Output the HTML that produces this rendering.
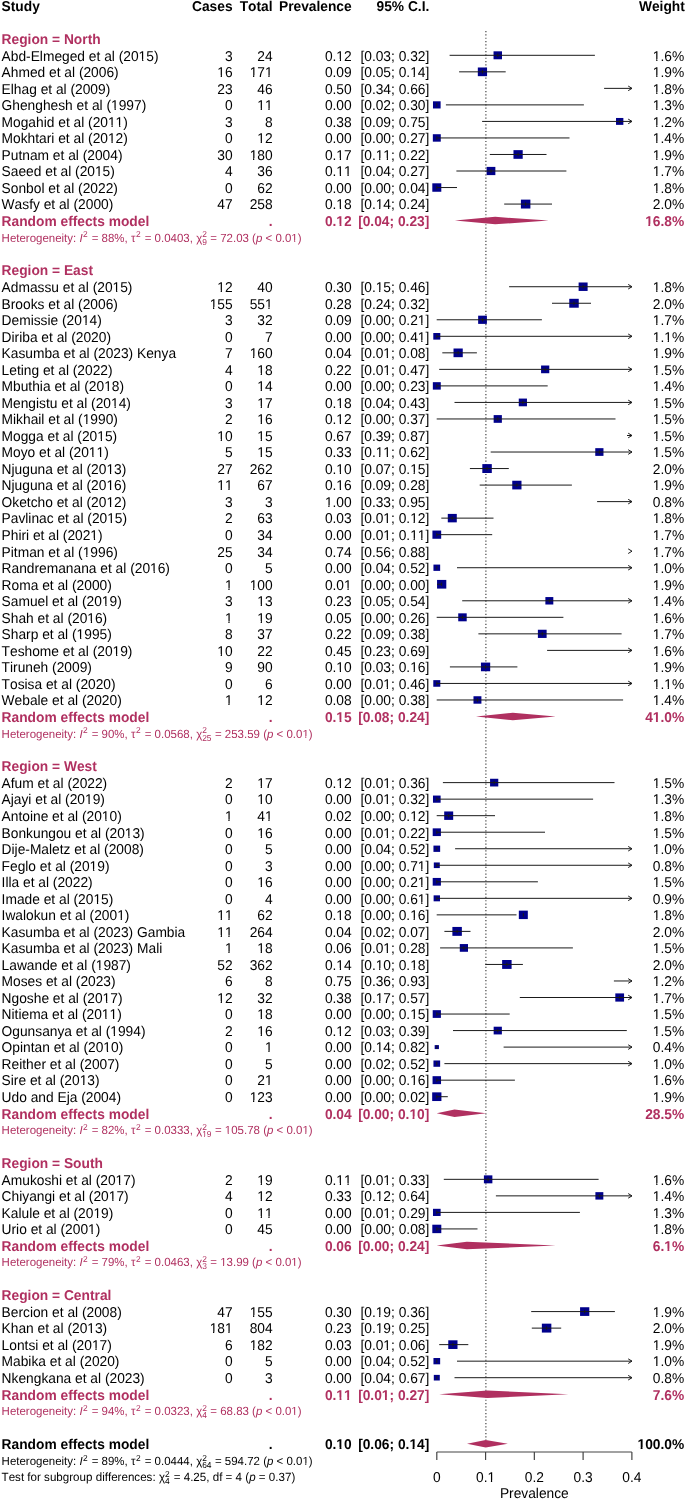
<!DOCTYPE html>
<html><head><meta charset="utf-8"><title>Forest plot</title>
<style>html,body{margin:0;padding:0;background:#fff;} svg{display:block;will-change:transform;} text{font-family:"Liberation Sans", sans-serif;white-space:pre;text-rendering:geometricPrecision;font-kerning:none;font-feature-settings:"kern" 0;}</style>
</head><body>
<svg width="685" height="1500" viewBox="0 0 685 1500" font-family="Liberation Sans, sans-serif">
<rect width="685" height="1500" fill="#fff"/>
<line x1="485.9" y1="31" x2="485.9" y2="1440.12" stroke="#333" stroke-width="1.1" stroke-dasharray="1.2 2.13"/>
<g fill="#00008b"><rect x="493.53" y="51.32" width="8.47" height="7.97"/><rect x="477.82" y="67.49" width="9.24" height="8.68"/><rect x="432.98" y="101.30" width="7.64" height="7.18"/><rect x="616.02" y="117.97" width="7.34" height="6.90"/><rect x="432.84" y="134.22" width="7.93" height="7.45"/><rect x="513.47" y="150.14" width="9.24" height="8.68"/><rect x="486.62" y="166.90" width="8.74" height="8.21"/><rect x="432.31" y="183.31" width="8.99" height="8.45"/><rect x="520.91" y="199.62" width="9.48" height="8.91"/><rect x="578.62" y="282.49" width="8.99" height="8.45"/><rect x="569.26" y="298.80" width="9.48" height="8.91"/><rect x="478.15" y="315.67" width="8.74" height="8.21"/><rect x="433.29" y="333.01" width="7.03" height="6.61"/><rect x="453.52" y="348.50" width="9.24" height="8.68"/><rect x="541.07" y="365.51" width="8.21" height="7.72"/><rect x="432.84" y="382.17" width="7.93" height="7.45"/><rect x="518.76" y="398.57" width="8.21" height="7.72"/><rect x="493.66" y="415.10" width="8.21" height="7.72"/><rect x="595.26" y="448.16" width="8.21" height="7.72"/><rect x="482.32" y="464.10" width="9.48" height="8.91"/><rect x="512.25" y="480.74" width="9.24" height="8.68"/><rect x="447.79" y="513.91" width="8.99" height="8.45"/><rect x="432.43" y="530.56" width="8.74" height="8.21"/><rect x="433.45" y="564.58" width="6.70" height="6.30"/><rect x="437.06" y="579.92" width="9.24" height="8.68"/><rect x="545.38" y="597.06" width="7.93" height="7.45"/><rect x="458.23" y="613.34" width="8.47" height="7.97"/><rect x="537.88" y="629.74" width="8.74" height="8.21"/><rect x="480.95" y="662.57" width="9.24" height="8.68"/><rect x="433.29" y="680.14" width="7.03" height="6.61"/><rect x="473.48" y="696.24" width="7.93" height="7.45"/><rect x="490.07" y="778.76" width="8.21" height="7.72"/><rect x="432.98" y="795.56" width="7.64" height="7.18"/><rect x="444.20" y="811.45" width="8.99" height="8.45"/><rect x="432.70" y="828.35" width="8.21" height="7.72"/><rect x="433.45" y="845.59" width="6.70" height="6.30"/><rect x="433.80" y="862.45" width="5.99" height="5.63"/><rect x="432.70" y="877.94" width="8.21" height="7.72"/><rect x="433.62" y="895.34" width="6.36" height="5.98"/><rect x="518.83" y="910.63" width="8.99" height="8.45"/><rect x="452.38" y="926.94" width="9.48" height="8.91"/><rect x="459.79" y="944.06" width="8.21" height="7.72"/><rect x="502.12" y="960.00" width="9.48" height="8.91"/><rect x="615.32" y="993.40" width="8.74" height="8.21"/><rect x="432.70" y="1010.18" width="8.21" height="7.72"/><rect x="493.66" y="1026.71" width="8.21" height="7.72"/><rect x="434.68" y="1045.11" width="4.24" height="3.98"/><rect x="433.45" y="1060.48" width="6.70" height="6.30"/><rect x="432.56" y="1076.18" width="8.47" height="7.97"/><rect x="432.18" y="1092.35" width="9.24" height="8.68"/><rect x="483.90" y="1175.36" width="8.47" height="7.97"/><rect x="595.40" y="1192.14" width="7.93" height="7.45"/><rect x="432.98" y="1208.81" width="7.64" height="7.18"/><rect x="432.31" y="1224.70" width="8.99" height="8.45"/><rect x="580.07" y="1307.24" width="9.24" height="8.68"/><rect x="541.86" y="1323.66" width="9.48" height="8.91"/><rect x="448.26" y="1340.30" width="9.24" height="8.68"/><rect x="433.45" y="1358.02" width="6.70" height="6.30"/><rect x="433.80" y="1374.88" width="5.99" height="5.63"/></g>
<g fill="#b03060"><polygon points="454.90,220.60 495.20,216.85 548.60,220.60 495.20,224.35"/><polygon points="476.00,716.50 512.80,712.75 555.70,716.50 512.80,720.25"/><polygon points="436.70,1113.22 454.50,1109.47 486.10,1113.22 454.50,1116.97"/><polygon points="436.70,1245.46 466.80,1241.71 555.70,1245.46 466.80,1249.21"/><polygon points="439.20,1394.23 487.40,1390.48 568.40,1394.23 487.40,1397.98"/></g>
<g fill="#b03060"><polygon points="467.00,1443.82 485.70,1440.07 507.80,1443.82 485.70,1447.57"/></g>
<g stroke="#1a1a1a" stroke-width="1.0" fill="none"><line x1="449.60" y1="55.30" x2="594.90" y2="55.30"/><line x1="497.76" y1="53.50" x2="497.76" y2="57.10"/><line x1="459.10" y1="71.83" x2="505.70" y2="71.83"/><line x1="482.43" y1="70.03" x2="482.43" y2="73.63"/><line x1="604.10" y1="88.36" x2="632.00" y2="88.36"/><polyline fill="none" points="628.20,86.06 632.00,88.36 628.20,90.66"/><line x1="445.90" y1="104.89" x2="583.90" y2="104.89"/><line x1="436.80" y1="103.09" x2="436.80" y2="106.69"/><line x1="482.10" y1="121.42" x2="632.00" y2="121.42"/><polyline fill="none" points="628.20,119.12 632.00,121.42 628.20,123.72"/><line x1="619.69" y1="119.62" x2="619.69" y2="123.22"/><line x1="437.00" y1="137.95" x2="569.50" y2="137.95"/><line x1="436.80" y1="136.15" x2="436.80" y2="139.75"/><line x1="489.80" y1="154.48" x2="546.50" y2="154.48"/><line x1="518.08" y1="152.68" x2="518.08" y2="156.28"/><line x1="456.40" y1="171.01" x2="566.40" y2="171.01"/><line x1="490.99" y1="169.21" x2="490.99" y2="172.81"/><line x1="437.00" y1="187.54" x2="457.00" y2="187.54"/><line x1="436.80" y1="185.74" x2="436.80" y2="189.34"/><line x1="504.20" y1="204.07" x2="552.00" y2="204.07"/><line x1="525.64" y1="202.27" x2="525.64" y2="205.87"/><line x1="509.10" y1="286.72" x2="632.00" y2="286.72"/><polyline fill="none" points="628.20,284.42 632.00,286.72 628.20,289.02"/><line x1="583.11" y1="284.92" x2="583.11" y2="288.52"/><line x1="552.00" y1="303.25" x2="591.00" y2="303.25"/><line x1="573.99" y1="301.45" x2="573.99" y2="305.05"/><line x1="436.70" y1="319.78" x2="541.90" y2="319.78"/><line x1="482.52" y1="317.98" x2="482.52" y2="321.58"/><line x1="437.00" y1="336.31" x2="632.00" y2="336.31"/><polyline fill="none" points="628.20,334.01 632.00,336.31 628.20,338.61"/><line x1="436.80" y1="334.51" x2="436.80" y2="338.11"/><line x1="442.30" y1="352.84" x2="476.90" y2="352.84"/><line x1="458.14" y1="351.04" x2="458.14" y2="354.64"/><line x1="439.20" y1="369.37" x2="632.00" y2="369.37"/><polyline fill="none" points="628.20,367.07 632.00,369.37 628.20,371.67"/><line x1="545.18" y1="367.57" x2="545.18" y2="371.17"/><line x1="437.00" y1="385.90" x2="547.70" y2="385.90"/><line x1="436.80" y1="384.10" x2="436.80" y2="387.70"/><line x1="454.50" y1="402.43" x2="632.00" y2="402.43"/><polyline fill="none" points="628.20,400.13 632.00,402.43 628.20,404.73"/><line x1="522.86" y1="400.63" x2="522.86" y2="404.23"/><line x1="436.70" y1="418.96" x2="615.50" y2="418.96"/><line x1="497.76" y1="417.16" x2="497.76" y2="420.76"/><line x1="627.00" y1="435.49" x2="632.00" y2="435.49"/><polyline fill="none" points="628.20,433.19 632.00,435.49 628.20,437.79"/><line x1="490.70" y1="452.02" x2="632.00" y2="452.02"/><polyline fill="none" points="628.20,449.72 632.00,452.02 628.20,454.32"/><line x1="599.37" y1="450.22" x2="599.37" y2="453.82"/><line x1="469.90" y1="468.55" x2="508.80" y2="468.55"/><line x1="487.06" y1="466.75" x2="487.06" y2="470.35"/><line x1="479.70" y1="485.08" x2="571.90" y2="485.08"/><line x1="516.87" y1="483.28" x2="516.87" y2="486.88"/><line x1="597.10" y1="501.61" x2="632.00" y2="501.61"/><polyline fill="none" points="628.20,499.31 632.00,501.61 628.20,503.91"/><line x1="441.30" y1="518.14" x2="493.50" y2="518.14"/><line x1="452.28" y1="516.34" x2="452.28" y2="519.94"/><line x1="437.00" y1="534.67" x2="492.20" y2="534.67"/><line x1="436.80" y1="532.87" x2="436.80" y2="536.47"/><polyline fill="none" points="628.20,548.90 632.00,551.20 628.20,553.50"/><line x1="457.00" y1="567.73" x2="632.00" y2="567.73"/><polyline fill="none" points="628.20,565.43 632.00,567.73 628.20,570.03"/><line x1="436.80" y1="565.93" x2="436.80" y2="569.53"/><line x1="437.00" y1="584.26" x2="441.30" y2="584.26"/><line x1="441.68" y1="582.46" x2="441.68" y2="586.06"/><line x1="462.20" y1="600.79" x2="632.00" y2="600.79"/><polyline fill="none" points="628.20,598.49 632.00,600.79 628.20,603.09"/><line x1="549.35" y1="598.99" x2="549.35" y2="602.59"/><line x1="436.70" y1="617.32" x2="563.40" y2="617.32"/><line x1="462.47" y1="615.52" x2="462.47" y2="619.12"/><line x1="478.40" y1="633.85" x2="621.60" y2="633.85"/><line x1="542.25" y1="632.05" x2="542.25" y2="635.65"/><line x1="547.10" y1="650.38" x2="632.00" y2="650.38"/><polyline fill="none" points="628.20,648.08 632.00,650.38 628.20,652.68"/><line x1="449.90" y1="666.91" x2="517.40" y2="666.91"/><line x1="485.57" y1="665.11" x2="485.57" y2="668.71"/><line x1="437.00" y1="683.44" x2="632.00" y2="683.44"/><polyline fill="none" points="628.20,681.14 632.00,683.44 628.20,685.74"/><line x1="436.80" y1="681.64" x2="436.80" y2="685.24"/><line x1="436.70" y1="699.97" x2="623.10" y2="699.97"/><line x1="477.44" y1="698.17" x2="477.44" y2="701.77"/><line x1="442.90" y1="782.62" x2="614.50" y2="782.62"/><line x1="494.18" y1="780.82" x2="494.18" y2="784.42"/><line x1="437.00" y1="799.15" x2="593.10" y2="799.15"/><line x1="436.80" y1="797.35" x2="436.80" y2="800.95"/><line x1="436.70" y1="815.68" x2="495.00" y2="815.68"/><line x1="448.70" y1="813.88" x2="448.70" y2="817.48"/><line x1="437.00" y1="832.21" x2="545.00" y2="832.21"/><line x1="436.80" y1="830.41" x2="436.80" y2="834.01"/><line x1="455.10" y1="848.74" x2="632.00" y2="848.74"/><polyline fill="none" points="628.20,846.44 632.00,848.74 628.20,851.04"/><line x1="436.80" y1="846.94" x2="436.80" y2="850.54"/><line x1="437.00" y1="865.27" x2="632.00" y2="865.27"/><polyline fill="none" points="628.20,862.97 632.00,865.27 628.20,867.57"/><line x1="436.80" y1="863.47" x2="436.80" y2="867.07"/><line x1="437.00" y1="881.80" x2="537.90" y2="881.80"/><line x1="436.80" y1="880.00" x2="436.80" y2="883.60"/><line x1="437.00" y1="898.33" x2="632.00" y2="898.33"/><polyline fill="none" points="628.20,896.03 632.00,898.33 628.20,900.63"/><line x1="436.80" y1="896.53" x2="436.80" y2="900.13"/><line x1="436.70" y1="914.86" x2="516.50" y2="914.86"/><line x1="523.33" y1="913.06" x2="523.33" y2="916.66"/><line x1="444.40" y1="931.39" x2="470.50" y2="931.39"/><line x1="457.12" y1="929.59" x2="457.12" y2="933.19"/><line x1="440.10" y1="947.92" x2="572.90" y2="947.92"/><line x1="463.89" y1="946.12" x2="463.89" y2="949.72"/><line x1="485.20" y1="964.45" x2="522.90" y2="964.45"/><line x1="506.86" y1="962.65" x2="506.86" y2="966.25"/><line x1="613.90" y1="980.98" x2="632.00" y2="980.98"/><polyline fill="none" points="628.20,978.68 632.00,980.98 628.20,983.28"/><line x1="519.80" y1="997.51" x2="632.00" y2="997.51"/><polyline fill="none" points="628.20,995.21 632.00,997.51 628.20,999.81"/><line x1="619.69" y1="995.71" x2="619.69" y2="999.31"/><line x1="437.00" y1="1014.04" x2="509.70" y2="1014.04"/><line x1="436.80" y1="1012.24" x2="436.80" y2="1015.84"/><line x1="453.00" y1="1030.57" x2="626.80" y2="1030.57"/><line x1="497.76" y1="1028.77" x2="497.76" y2="1032.37"/><line x1="503.60" y1="1047.10" x2="632.00" y2="1047.10"/><polyline fill="none" points="628.20,1044.80 632.00,1047.10 628.20,1049.40"/><line x1="436.80" y1="1045.30" x2="436.80" y2="1048.90"/><line x1="444.40" y1="1063.63" x2="632.00" y2="1063.63"/><polyline fill="none" points="628.20,1061.33 632.00,1063.63 628.20,1065.93"/><line x1="436.80" y1="1061.83" x2="436.80" y2="1065.43"/><line x1="437.00" y1="1080.16" x2="514.90" y2="1080.16"/><line x1="436.80" y1="1078.36" x2="436.80" y2="1081.96"/><line x1="437.00" y1="1096.69" x2="447.80" y2="1096.69"/><line x1="436.80" y1="1094.89" x2="436.80" y2="1098.49"/><line x1="443.80" y1="1179.34" x2="598.60" y2="1179.34"/><line x1="488.14" y1="1177.54" x2="488.14" y2="1181.14"/><line x1="495.90" y1="1195.87" x2="632.00" y2="1195.87"/><polyline fill="none" points="628.20,1193.57 632.00,1195.87 628.20,1198.17"/><line x1="599.37" y1="1194.07" x2="599.37" y2="1197.67"/><line x1="437.00" y1="1212.40" x2="579.90" y2="1212.40"/><line x1="436.80" y1="1210.60" x2="436.80" y2="1214.20"/><line x1="437.00" y1="1228.93" x2="477.50" y2="1228.93"/><line x1="436.80" y1="1227.13" x2="436.80" y2="1230.73"/><line x1="531.20" y1="1311.58" x2="614.90" y2="1311.58"/><line x1="584.68" y1="1309.78" x2="584.68" y2="1313.38"/><line x1="531.80" y1="1328.11" x2="561.20" y2="1328.11"/><line x1="546.59" y1="1326.31" x2="546.59" y2="1329.91"/><line x1="439.20" y1="1344.64" x2="468.30" y2="1344.64"/><line x1="452.88" y1="1342.84" x2="452.88" y2="1346.44"/><line x1="457.00" y1="1361.17" x2="632.00" y2="1361.17"/><polyline fill="none" points="628.20,1358.87 632.00,1361.17 628.20,1363.47"/><line x1="436.80" y1="1359.37" x2="436.80" y2="1362.97"/><line x1="454.50" y1="1377.70" x2="632.00" y2="1377.70"/><polyline fill="none" points="628.20,1375.40 632.00,1377.70 628.20,1380.00"/><line x1="436.80" y1="1375.90" x2="436.80" y2="1379.50"/></g>
<g stroke="#444" stroke-width="1.2" fill="none"><line x1="436.80" y1="1452.0" x2="631.88" y2="1452.0"/><line x1="436.80" y1="1452.0" x2="436.80" y2="1460.00"/><line x1="485.57" y1="1452.0" x2="485.57" y2="1460.00"/><line x1="534.34" y1="1452.0" x2="534.34" y2="1460.00"/><line x1="583.11" y1="1452.0" x2="583.11" y2="1460.00"/><line x1="631.88" y1="1452.0" x2="631.88" y2="1460.00"/></g>
<text x="1.60" y="11.01" font-size="13.78" font-weight="bold" fill="#000" transform="matrix(1 0 0 1.03 0 -0.330)">Study</text><text x="232.60" y="11.01" font-size="13.78" font-weight="bold" text-anchor="end" fill="#000" transform="matrix(1 0 0 1.03 0 -0.330)">Cases</text><text x="272.60" y="11.01" font-size="13.78" font-weight="bold" text-anchor="end" fill="#000" transform="matrix(1 0 0 1.03 0 -0.330)">Total</text><text x="351.70" y="11.01" font-size="13.78" font-weight="bold" text-anchor="end" fill="#000" transform="matrix(1 0 0 1.03 0 -0.330)">Prevalence</text><text x="429.30" y="11.01" font-size="13.78" font-weight="bold" text-anchor="end" fill="#000" transform="matrix(1 0 0 1.03 0 -0.330)">95% C.I.</text><text x="684.80" y="11.01" font-size="13.78" font-weight="bold" text-anchor="end" fill="#000" transform="matrix(1 0 0 1.03 0 -0.330)">Weight</text><text x="1.60" y="44.07" font-size="13.78" font-weight="bold" fill="#b03060" transform="matrix(1 0 0 1.03 0 -1.322)">Region = North</text><text x="1.60" y="60.60" font-size="13.78" fill="#000" transform="matrix(1 0 0 1.03 0 -1.818)">Abd-Elmeged et al (2015)</text><text x="232.60" y="60.60" font-size="13.78" text-anchor="end" fill="#000" transform="matrix(1 0 0 1.03 0 -1.818)">3</text><text x="272.60" y="60.60" font-size="13.78" text-anchor="end" fill="#000" transform="matrix(1 0 0 1.03 0 -1.818)">24</text><text x="351.70" y="60.60" font-size="13.78" text-anchor="end" fill="#000" transform="matrix(1 0 0 1.03 0 -1.818)">0.12</text><text x="429.30" y="60.60" font-size="13.78" text-anchor="end" fill="#000" transform="matrix(1 0 0 1.03 0 -1.818)">[0.03; 0.32]</text><text x="684.20" y="60.60" font-size="13.78" text-anchor="end" fill="#000" transform="matrix(1 0 0 1.03 0 -1.818)">1.6%</text><text x="1.60" y="77.13" font-size="13.78" fill="#000" transform="matrix(1 0 0 1.03 0 -2.314)">Ahmed et al (2006)</text><text x="232.60" y="77.13" font-size="13.78" text-anchor="end" fill="#000" transform="matrix(1 0 0 1.03 0 -2.314)">16</text><text x="272.60" y="77.13" font-size="13.78" text-anchor="end" fill="#000" transform="matrix(1 0 0 1.03 0 -2.314)">171</text><text x="351.70" y="77.13" font-size="13.78" text-anchor="end" fill="#000" transform="matrix(1 0 0 1.03 0 -2.314)">0.09</text><text x="429.30" y="77.13" font-size="13.78" text-anchor="end" fill="#000" transform="matrix(1 0 0 1.03 0 -2.314)">[0.05; 0.14]</text><text x="684.20" y="77.13" font-size="13.78" text-anchor="end" fill="#000" transform="matrix(1 0 0 1.03 0 -2.314)">1.9%</text><text x="1.60" y="93.66" font-size="13.78" fill="#000" transform="matrix(1 0 0 1.03 0 -2.810)">Elhag et al (2009)</text><text x="232.60" y="93.66" font-size="13.78" text-anchor="end" fill="#000" transform="matrix(1 0 0 1.03 0 -2.810)">23</text><text x="272.60" y="93.66" font-size="13.78" text-anchor="end" fill="#000" transform="matrix(1 0 0 1.03 0 -2.810)">46</text><text x="351.70" y="93.66" font-size="13.78" text-anchor="end" fill="#000" transform="matrix(1 0 0 1.03 0 -2.810)">0.50</text><text x="429.30" y="93.66" font-size="13.78" text-anchor="end" fill="#000" transform="matrix(1 0 0 1.03 0 -2.810)">[0.34; 0.66]</text><text x="684.20" y="93.66" font-size="13.78" text-anchor="end" fill="#000" transform="matrix(1 0 0 1.03 0 -2.810)">1.8%</text><text x="1.60" y="110.19" font-size="13.78" fill="#000" transform="matrix(1 0 0 1.03 0 -3.306)">Ghenghesh et al (1997)</text><text x="232.60" y="110.19" font-size="13.78" text-anchor="end" fill="#000" transform="matrix(1 0 0 1.03 0 -3.306)">0</text><text x="272.60" y="110.19" font-size="13.78" text-anchor="end" fill="#000" transform="matrix(1 0 0 1.03 0 -3.306)">11</text><text x="351.70" y="110.19" font-size="13.78" text-anchor="end" fill="#000" transform="matrix(1 0 0 1.03 0 -3.306)">0.00</text><text x="429.30" y="110.19" font-size="13.78" text-anchor="end" fill="#000" transform="matrix(1 0 0 1.03 0 -3.306)">[0.02; 0.30]</text><text x="684.20" y="110.19" font-size="13.78" text-anchor="end" fill="#000" transform="matrix(1 0 0 1.03 0 -3.306)">1.3%</text><text x="1.60" y="126.72" font-size="13.78" fill="#000" transform="matrix(1 0 0 1.03 0 -3.802)">Mogahid et al (2011)</text><text x="232.60" y="126.72" font-size="13.78" text-anchor="end" fill="#000" transform="matrix(1 0 0 1.03 0 -3.802)">3</text><text x="272.60" y="126.72" font-size="13.78" text-anchor="end" fill="#000" transform="matrix(1 0 0 1.03 0 -3.802)">8</text><text x="351.70" y="126.72" font-size="13.78" text-anchor="end" fill="#000" transform="matrix(1 0 0 1.03 0 -3.802)">0.38</text><text x="429.30" y="126.72" font-size="13.78" text-anchor="end" fill="#000" transform="matrix(1 0 0 1.03 0 -3.802)">[0.09; 0.75]</text><text x="684.20" y="126.72" font-size="13.78" text-anchor="end" fill="#000" transform="matrix(1 0 0 1.03 0 -3.802)">1.2%</text><text x="1.60" y="143.25" font-size="13.78" fill="#000" transform="matrix(1 0 0 1.03 0 -4.298)">Mokhtari et al (2012)</text><text x="232.60" y="143.25" font-size="13.78" text-anchor="end" fill="#000" transform="matrix(1 0 0 1.03 0 -4.298)">0</text><text x="272.60" y="143.25" font-size="13.78" text-anchor="end" fill="#000" transform="matrix(1 0 0 1.03 0 -4.298)">12</text><text x="351.70" y="143.25" font-size="13.78" text-anchor="end" fill="#000" transform="matrix(1 0 0 1.03 0 -4.298)">0.00</text><text x="429.30" y="143.25" font-size="13.78" text-anchor="end" fill="#000" transform="matrix(1 0 0 1.03 0 -4.298)">[0.00; 0.27]</text><text x="684.20" y="143.25" font-size="13.78" text-anchor="end" fill="#000" transform="matrix(1 0 0 1.03 0 -4.298)">1.4%</text><text x="1.60" y="159.78" font-size="13.78" fill="#000" transform="matrix(1 0 0 1.03 0 -4.793)">Putnam et al (2004)</text><text x="232.60" y="159.78" font-size="13.78" text-anchor="end" fill="#000" transform="matrix(1 0 0 1.03 0 -4.793)">30</text><text x="272.60" y="159.78" font-size="13.78" text-anchor="end" fill="#000" transform="matrix(1 0 0 1.03 0 -4.793)">180</text><text x="351.70" y="159.78" font-size="13.78" text-anchor="end" fill="#000" transform="matrix(1 0 0 1.03 0 -4.793)">0.17</text><text x="429.30" y="159.78" font-size="13.78" text-anchor="end" fill="#000" transform="matrix(1 0 0 1.03 0 -4.793)">[0.11; 0.22]</text><text x="684.20" y="159.78" font-size="13.78" text-anchor="end" fill="#000" transform="matrix(1 0 0 1.03 0 -4.793)">1.9%</text><text x="1.60" y="176.31" font-size="13.78" fill="#000" transform="matrix(1 0 0 1.03 0 -5.289)">Saeed et al (2015)</text><text x="232.60" y="176.31" font-size="13.78" text-anchor="end" fill="#000" transform="matrix(1 0 0 1.03 0 -5.289)">4</text><text x="272.60" y="176.31" font-size="13.78" text-anchor="end" fill="#000" transform="matrix(1 0 0 1.03 0 -5.289)">36</text><text x="351.70" y="176.31" font-size="13.78" text-anchor="end" fill="#000" transform="matrix(1 0 0 1.03 0 -5.289)">0.11</text><text x="429.30" y="176.31" font-size="13.78" text-anchor="end" fill="#000" transform="matrix(1 0 0 1.03 0 -5.289)">[0.04; 0.27]</text><text x="684.20" y="176.31" font-size="13.78" text-anchor="end" fill="#000" transform="matrix(1 0 0 1.03 0 -5.289)">1.7%</text><text x="1.60" y="192.84" font-size="13.78" fill="#000" transform="matrix(1 0 0 1.03 0 -5.785)">Sonbol et al (2022)</text><text x="232.60" y="192.84" font-size="13.78" text-anchor="end" fill="#000" transform="matrix(1 0 0 1.03 0 -5.785)">0</text><text x="272.60" y="192.84" font-size="13.78" text-anchor="end" fill="#000" transform="matrix(1 0 0 1.03 0 -5.785)">62</text><text x="351.70" y="192.84" font-size="13.78" text-anchor="end" fill="#000" transform="matrix(1 0 0 1.03 0 -5.785)">0.00</text><text x="429.30" y="192.84" font-size="13.78" text-anchor="end" fill="#000" transform="matrix(1 0 0 1.03 0 -5.785)">[0.00; 0.04]</text><text x="684.20" y="192.84" font-size="13.78" text-anchor="end" fill="#000" transform="matrix(1 0 0 1.03 0 -5.785)">1.8%</text><text x="1.60" y="209.37" font-size="13.78" fill="#000" transform="matrix(1 0 0 1.03 0 -6.281)">Wasfy et al (2000)</text><text x="232.60" y="209.37" font-size="13.78" text-anchor="end" fill="#000" transform="matrix(1 0 0 1.03 0 -6.281)">47</text><text x="272.60" y="209.37" font-size="13.78" text-anchor="end" fill="#000" transform="matrix(1 0 0 1.03 0 -6.281)">258</text><text x="351.70" y="209.37" font-size="13.78" text-anchor="end" fill="#000" transform="matrix(1 0 0 1.03 0 -6.281)">0.18</text><text x="429.30" y="209.37" font-size="13.78" text-anchor="end" fill="#000" transform="matrix(1 0 0 1.03 0 -6.281)">[0.14; 0.24]</text><text x="684.20" y="209.37" font-size="13.78" text-anchor="end" fill="#000" transform="matrix(1 0 0 1.03 0 -6.281)">2.0%</text><text x="1.60" y="225.90" font-size="13.78" font-weight="bold" fill="#b03060" transform="matrix(1 0 0 1.03 0 -6.777)">Random effects model</text><text x="272.60" y="225.90" font-size="13.78" font-weight="bold" text-anchor="end" fill="#b03060" transform="matrix(1 0 0 1.03 0 -6.777)">.</text><text x="351.70" y="225.90" font-size="13.78" font-weight="bold" text-anchor="end" fill="#b03060" transform="matrix(1 0 0 1.03 0 -6.777)">0.12</text><text x="429.30" y="225.90" font-size="13.78" font-weight="bold" text-anchor="end" fill="#b03060" transform="matrix(1 0 0 1.03 0 -6.777)">[0.04; 0.23]</text><text x="684.20" y="225.90" font-size="13.78" font-weight="bold" text-anchor="end" fill="#b03060" transform="matrix(1 0 0 1.03 0 -6.777)">16.8%</text><text x="1.60" y="241.63" font-size="11.48" fill="#b03060" transform="matrix(1 0 0 1.03 0 -7.249)">Heterogeneity: </text><text x="79.45" y="241.63" font-size="11.48" font-style="italic" fill="#b03060" transform="matrix(1 0 0 1.03 0 -7.249)">I</text><text x="82.94" y="237.33" font-size="8.4" fill="#b03060" transform="matrix(1 0 0 1.03 0 -7.120)">2</text><text x="88.52" y="241.63" font-size="11.48" fill="#b03060" transform="matrix(1 0 0 1.03 0 -7.249)"> = 88%, </text><text x="130.95" y="241.63" font-size="11.48" fill="#b03060" transform="matrix(1 0 0 1.03 0 -7.249)">τ</text><text x="136.09" y="237.33" font-size="8.4" fill="#b03060" transform="matrix(1 0 0 1.03 0 -7.120)">2</text><text x="141.56" y="241.63" font-size="11.48" fill="#b03060" transform="matrix(1 0 0 1.03 0 -7.249)"> = 0.0403, </text><text x="196.14" y="241.63" font-size="11.48" fill="#b03060" transform="matrix(1 0 0 1.03 0 -7.249)">χ</text><text x="202.16" y="237.33" font-size="8.4" fill="#b03060" transform="matrix(1 0 0 1.03 0 -7.120)">2</text><text x="202.16" y="244.63" font-size="8.4" fill="#b03060" transform="matrix(1 0 0 1.03 0 -7.339)">9</text><text x="207.13" y="241.63" font-size="11.48" fill="#b03060" transform="matrix(1 0 0 1.03 0 -7.249)"> = 72.03 (</text><text x="255.96" y="241.63" font-size="11.48" font-style="italic" fill="#b03060" transform="matrix(1 0 0 1.03 0 -7.249)">p</text><text x="262.34" y="241.63" font-size="11.48" fill="#b03060" transform="matrix(1 0 0 1.03 0 -7.249)"> &lt; 0.01)</text><text x="1.60" y="275.49" font-size="13.78" font-weight="bold" fill="#b03060" transform="matrix(1 0 0 1.03 0 -8.265)">Region = East</text><text x="1.60" y="292.02" font-size="13.78" fill="#000" transform="matrix(1 0 0 1.03 0 -8.761)">Admassu et al (2015)</text><text x="232.60" y="292.02" font-size="13.78" text-anchor="end" fill="#000" transform="matrix(1 0 0 1.03 0 -8.761)">12</text><text x="272.60" y="292.02" font-size="13.78" text-anchor="end" fill="#000" transform="matrix(1 0 0 1.03 0 -8.761)">40</text><text x="351.70" y="292.02" font-size="13.78" text-anchor="end" fill="#000" transform="matrix(1 0 0 1.03 0 -8.761)">0.30</text><text x="429.30" y="292.02" font-size="13.78" text-anchor="end" fill="#000" transform="matrix(1 0 0 1.03 0 -8.761)">[0.15; 0.46]</text><text x="684.20" y="292.02" font-size="13.78" text-anchor="end" fill="#000" transform="matrix(1 0 0 1.03 0 -8.761)">1.8%</text><text x="1.60" y="308.55" font-size="13.78" fill="#000" transform="matrix(1 0 0 1.03 0 -9.257)">Brooks et al (2006)</text><text x="232.60" y="308.55" font-size="13.78" text-anchor="end" fill="#000" transform="matrix(1 0 0 1.03 0 -9.257)">155</text><text x="272.60" y="308.55" font-size="13.78" text-anchor="end" fill="#000" transform="matrix(1 0 0 1.03 0 -9.257)">551</text><text x="351.70" y="308.55" font-size="13.78" text-anchor="end" fill="#000" transform="matrix(1 0 0 1.03 0 -9.257)">0.28</text><text x="429.30" y="308.55" font-size="13.78" text-anchor="end" fill="#000" transform="matrix(1 0 0 1.03 0 -9.257)">[0.24; 0.32]</text><text x="684.20" y="308.55" font-size="13.78" text-anchor="end" fill="#000" transform="matrix(1 0 0 1.03 0 -9.257)">2.0%</text><text x="1.60" y="325.08" font-size="13.78" fill="#000" transform="matrix(1 0 0 1.03 0 -9.752)">Demissie (2014)</text><text x="232.60" y="325.08" font-size="13.78" text-anchor="end" fill="#000" transform="matrix(1 0 0 1.03 0 -9.752)">3</text><text x="272.60" y="325.08" font-size="13.78" text-anchor="end" fill="#000" transform="matrix(1 0 0 1.03 0 -9.752)">32</text><text x="351.70" y="325.08" font-size="13.78" text-anchor="end" fill="#000" transform="matrix(1 0 0 1.03 0 -9.752)">0.09</text><text x="429.30" y="325.08" font-size="13.78" text-anchor="end" fill="#000" transform="matrix(1 0 0 1.03 0 -9.752)">[0.00; 0.21]</text><text x="684.20" y="325.08" font-size="13.78" text-anchor="end" fill="#000" transform="matrix(1 0 0 1.03 0 -9.752)">1.7%</text><text x="1.60" y="341.61" font-size="13.78" fill="#000" transform="matrix(1 0 0 1.03 0 -10.248)">Diriba et al (2020)</text><text x="232.60" y="341.61" font-size="13.78" text-anchor="end" fill="#000" transform="matrix(1 0 0 1.03 0 -10.248)">0</text><text x="272.60" y="341.61" font-size="13.78" text-anchor="end" fill="#000" transform="matrix(1 0 0 1.03 0 -10.248)">7</text><text x="351.70" y="341.61" font-size="13.78" text-anchor="end" fill="#000" transform="matrix(1 0 0 1.03 0 -10.248)">0.00</text><text x="429.30" y="341.61" font-size="13.78" text-anchor="end" fill="#000" transform="matrix(1 0 0 1.03 0 -10.248)">[0.00; 0.41]</text><text x="684.20" y="341.61" font-size="13.78" text-anchor="end" fill="#000" transform="matrix(1 0 0 1.03 0 -10.248)">1.1%</text><text x="1.60" y="358.14" font-size="13.78" fill="#000" transform="matrix(1 0 0 1.03 0 -10.744)">Kasumba et al (2023) Kenya</text><text x="232.60" y="358.14" font-size="13.78" text-anchor="end" fill="#000" transform="matrix(1 0 0 1.03 0 -10.744)">7</text><text x="272.60" y="358.14" font-size="13.78" text-anchor="end" fill="#000" transform="matrix(1 0 0 1.03 0 -10.744)">160</text><text x="351.70" y="358.14" font-size="13.78" text-anchor="end" fill="#000" transform="matrix(1 0 0 1.03 0 -10.744)">0.04</text><text x="429.30" y="358.14" font-size="13.78" text-anchor="end" fill="#000" transform="matrix(1 0 0 1.03 0 -10.744)">[0.01; 0.08]</text><text x="684.20" y="358.14" font-size="13.78" text-anchor="end" fill="#000" transform="matrix(1 0 0 1.03 0 -10.744)">1.9%</text><text x="1.60" y="374.67" font-size="13.78" fill="#000" transform="matrix(1 0 0 1.03 0 -11.240)">Leting et al (2022)</text><text x="232.60" y="374.67" font-size="13.78" text-anchor="end" fill="#000" transform="matrix(1 0 0 1.03 0 -11.240)">4</text><text x="272.60" y="374.67" font-size="13.78" text-anchor="end" fill="#000" transform="matrix(1 0 0 1.03 0 -11.240)">18</text><text x="351.70" y="374.67" font-size="13.78" text-anchor="end" fill="#000" transform="matrix(1 0 0 1.03 0 -11.240)">0.22</text><text x="429.30" y="374.67" font-size="13.78" text-anchor="end" fill="#000" transform="matrix(1 0 0 1.03 0 -11.240)">[0.01; 0.47]</text><text x="684.20" y="374.67" font-size="13.78" text-anchor="end" fill="#000" transform="matrix(1 0 0 1.03 0 -11.240)">1.5%</text><text x="1.60" y="391.20" font-size="13.78" fill="#000" transform="matrix(1 0 0 1.03 0 -11.736)">Mbuthia et al (2018)</text><text x="232.60" y="391.20" font-size="13.78" text-anchor="end" fill="#000" transform="matrix(1 0 0 1.03 0 -11.736)">0</text><text x="272.60" y="391.20" font-size="13.78" text-anchor="end" fill="#000" transform="matrix(1 0 0 1.03 0 -11.736)">14</text><text x="351.70" y="391.20" font-size="13.78" text-anchor="end" fill="#000" transform="matrix(1 0 0 1.03 0 -11.736)">0.00</text><text x="429.30" y="391.20" font-size="13.78" text-anchor="end" fill="#000" transform="matrix(1 0 0 1.03 0 -11.736)">[0.00; 0.23]</text><text x="684.20" y="391.20" font-size="13.78" text-anchor="end" fill="#000" transform="matrix(1 0 0 1.03 0 -11.736)">1.4%</text><text x="1.60" y="407.73" font-size="13.78" fill="#000" transform="matrix(1 0 0 1.03 0 -12.232)">Mengistu et al (2014)</text><text x="232.60" y="407.73" font-size="13.78" text-anchor="end" fill="#000" transform="matrix(1 0 0 1.03 0 -12.232)">3</text><text x="272.60" y="407.73" font-size="13.78" text-anchor="end" fill="#000" transform="matrix(1 0 0 1.03 0 -12.232)">17</text><text x="351.70" y="407.73" font-size="13.78" text-anchor="end" fill="#000" transform="matrix(1 0 0 1.03 0 -12.232)">0.18</text><text x="429.30" y="407.73" font-size="13.78" text-anchor="end" fill="#000" transform="matrix(1 0 0 1.03 0 -12.232)">[0.04; 0.43]</text><text x="684.20" y="407.73" font-size="13.78" text-anchor="end" fill="#000" transform="matrix(1 0 0 1.03 0 -12.232)">1.5%</text><text x="1.60" y="424.26" font-size="13.78" fill="#000" transform="matrix(1 0 0 1.03 0 -12.728)">Mikhail et al (1990)</text><text x="232.60" y="424.26" font-size="13.78" text-anchor="end" fill="#000" transform="matrix(1 0 0 1.03 0 -12.728)">2</text><text x="272.60" y="424.26" font-size="13.78" text-anchor="end" fill="#000" transform="matrix(1 0 0 1.03 0 -12.728)">16</text><text x="351.70" y="424.26" font-size="13.78" text-anchor="end" fill="#000" transform="matrix(1 0 0 1.03 0 -12.728)">0.12</text><text x="429.30" y="424.26" font-size="13.78" text-anchor="end" fill="#000" transform="matrix(1 0 0 1.03 0 -12.728)">[0.00; 0.37]</text><text x="684.20" y="424.26" font-size="13.78" text-anchor="end" fill="#000" transform="matrix(1 0 0 1.03 0 -12.728)">1.5%</text><text x="1.60" y="440.79" font-size="13.78" fill="#000" transform="matrix(1 0 0 1.03 0 -13.224)">Mogga et al (2015)</text><text x="232.60" y="440.79" font-size="13.78" text-anchor="end" fill="#000" transform="matrix(1 0 0 1.03 0 -13.224)">10</text><text x="272.60" y="440.79" font-size="13.78" text-anchor="end" fill="#000" transform="matrix(1 0 0 1.03 0 -13.224)">15</text><text x="351.70" y="440.79" font-size="13.78" text-anchor="end" fill="#000" transform="matrix(1 0 0 1.03 0 -13.224)">0.67</text><text x="429.30" y="440.79" font-size="13.78" text-anchor="end" fill="#000" transform="matrix(1 0 0 1.03 0 -13.224)">[0.39; 0.87]</text><text x="684.20" y="440.79" font-size="13.78" text-anchor="end" fill="#000" transform="matrix(1 0 0 1.03 0 -13.224)">1.5%</text><text x="1.60" y="457.32" font-size="13.78" fill="#000" transform="matrix(1 0 0 1.03 0 -13.720)">Moyo et al (2011)</text><text x="232.60" y="457.32" font-size="13.78" text-anchor="end" fill="#000" transform="matrix(1 0 0 1.03 0 -13.720)">5</text><text x="272.60" y="457.32" font-size="13.78" text-anchor="end" fill="#000" transform="matrix(1 0 0 1.03 0 -13.720)">15</text><text x="351.70" y="457.32" font-size="13.78" text-anchor="end" fill="#000" transform="matrix(1 0 0 1.03 0 -13.720)">0.33</text><text x="429.30" y="457.32" font-size="13.78" text-anchor="end" fill="#000" transform="matrix(1 0 0 1.03 0 -13.720)">[0.11; 0.62]</text><text x="684.20" y="457.32" font-size="13.78" text-anchor="end" fill="#000" transform="matrix(1 0 0 1.03 0 -13.720)">1.5%</text><text x="1.60" y="473.85" font-size="13.78" fill="#000" transform="matrix(1 0 0 1.03 0 -14.216)">Njuguna et al (2013)</text><text x="232.60" y="473.85" font-size="13.78" text-anchor="end" fill="#000" transform="matrix(1 0 0 1.03 0 -14.216)">27</text><text x="272.60" y="473.85" font-size="13.78" text-anchor="end" fill="#000" transform="matrix(1 0 0 1.03 0 -14.216)">262</text><text x="351.70" y="473.85" font-size="13.78" text-anchor="end" fill="#000" transform="matrix(1 0 0 1.03 0 -14.216)">0.10</text><text x="429.30" y="473.85" font-size="13.78" text-anchor="end" fill="#000" transform="matrix(1 0 0 1.03 0 -14.216)">[0.07; 0.15]</text><text x="684.20" y="473.85" font-size="13.78" text-anchor="end" fill="#000" transform="matrix(1 0 0 1.03 0 -14.216)">2.0%</text><text x="1.60" y="490.38" font-size="13.78" fill="#000" transform="matrix(1 0 0 1.03 0 -14.711)">Njuguna et al (2016)</text><text x="232.60" y="490.38" font-size="13.78" text-anchor="end" fill="#000" transform="matrix(1 0 0 1.03 0 -14.711)">11</text><text x="272.60" y="490.38" font-size="13.78" text-anchor="end" fill="#000" transform="matrix(1 0 0 1.03 0 -14.711)">67</text><text x="351.70" y="490.38" font-size="13.78" text-anchor="end" fill="#000" transform="matrix(1 0 0 1.03 0 -14.711)">0.16</text><text x="429.30" y="490.38" font-size="13.78" text-anchor="end" fill="#000" transform="matrix(1 0 0 1.03 0 -14.711)">[0.09; 0.28]</text><text x="684.20" y="490.38" font-size="13.78" text-anchor="end" fill="#000" transform="matrix(1 0 0 1.03 0 -14.711)">1.9%</text><text x="1.60" y="506.91" font-size="13.78" fill="#000" transform="matrix(1 0 0 1.03 0 -15.207)">Oketcho et al (2012)</text><text x="232.60" y="506.91" font-size="13.78" text-anchor="end" fill="#000" transform="matrix(1 0 0 1.03 0 -15.207)">3</text><text x="272.60" y="506.91" font-size="13.78" text-anchor="end" fill="#000" transform="matrix(1 0 0 1.03 0 -15.207)">3</text><text x="351.70" y="506.91" font-size="13.78" text-anchor="end" fill="#000" transform="matrix(1 0 0 1.03 0 -15.207)">1.00</text><text x="429.30" y="506.91" font-size="13.78" text-anchor="end" fill="#000" transform="matrix(1 0 0 1.03 0 -15.207)">[0.33; 0.95]</text><text x="684.20" y="506.91" font-size="13.78" text-anchor="end" fill="#000" transform="matrix(1 0 0 1.03 0 -15.207)">0.8%</text><text x="1.60" y="523.44" font-size="13.78" fill="#000" transform="matrix(1 0 0 1.03 0 -15.703)">Pavlinac et al (2015)</text><text x="232.60" y="523.44" font-size="13.78" text-anchor="end" fill="#000" transform="matrix(1 0 0 1.03 0 -15.703)">2</text><text x="272.60" y="523.44" font-size="13.78" text-anchor="end" fill="#000" transform="matrix(1 0 0 1.03 0 -15.703)">63</text><text x="351.70" y="523.44" font-size="13.78" text-anchor="end" fill="#000" transform="matrix(1 0 0 1.03 0 -15.703)">0.03</text><text x="429.30" y="523.44" font-size="13.78" text-anchor="end" fill="#000" transform="matrix(1 0 0 1.03 0 -15.703)">[0.01; 0.12]</text><text x="684.20" y="523.44" font-size="13.78" text-anchor="end" fill="#000" transform="matrix(1 0 0 1.03 0 -15.703)">1.8%</text><text x="1.60" y="539.97" font-size="13.78" fill="#000" transform="matrix(1 0 0 1.03 0 -16.199)">Phiri et al (2021)</text><text x="232.60" y="539.97" font-size="13.78" text-anchor="end" fill="#000" transform="matrix(1 0 0 1.03 0 -16.199)">0</text><text x="272.60" y="539.97" font-size="13.78" text-anchor="end" fill="#000" transform="matrix(1 0 0 1.03 0 -16.199)">34</text><text x="351.70" y="539.97" font-size="13.78" text-anchor="end" fill="#000" transform="matrix(1 0 0 1.03 0 -16.199)">0.00</text><text x="429.30" y="539.97" font-size="13.78" text-anchor="end" fill="#000" transform="matrix(1 0 0 1.03 0 -16.199)">[0.01; 0.11]</text><text x="684.20" y="539.97" font-size="13.78" text-anchor="end" fill="#000" transform="matrix(1 0 0 1.03 0 -16.199)">1.7%</text><text x="1.60" y="556.50" font-size="13.78" fill="#000" transform="matrix(1 0 0 1.03 0 -16.695)">Pitman et al (1996)</text><text x="232.60" y="556.50" font-size="13.78" text-anchor="end" fill="#000" transform="matrix(1 0 0 1.03 0 -16.695)">25</text><text x="272.60" y="556.50" font-size="13.78" text-anchor="end" fill="#000" transform="matrix(1 0 0 1.03 0 -16.695)">34</text><text x="351.70" y="556.50" font-size="13.78" text-anchor="end" fill="#000" transform="matrix(1 0 0 1.03 0 -16.695)">0.74</text><text x="429.30" y="556.50" font-size="13.78" text-anchor="end" fill="#000" transform="matrix(1 0 0 1.03 0 -16.695)">[0.56; 0.88]</text><text x="684.20" y="556.50" font-size="13.78" text-anchor="end" fill="#000" transform="matrix(1 0 0 1.03 0 -16.695)">1.7%</text><text x="1.60" y="573.03" font-size="13.78" fill="#000" transform="matrix(1 0 0 1.03 0 -17.191)">Randremanana et al (2016)</text><text x="232.60" y="573.03" font-size="13.78" text-anchor="end" fill="#000" transform="matrix(1 0 0 1.03 0 -17.191)">0</text><text x="272.60" y="573.03" font-size="13.78" text-anchor="end" fill="#000" transform="matrix(1 0 0 1.03 0 -17.191)">5</text><text x="351.70" y="573.03" font-size="13.78" text-anchor="end" fill="#000" transform="matrix(1 0 0 1.03 0 -17.191)">0.00</text><text x="429.30" y="573.03" font-size="13.78" text-anchor="end" fill="#000" transform="matrix(1 0 0 1.03 0 -17.191)">[0.04; 0.52]</text><text x="684.20" y="573.03" font-size="13.78" text-anchor="end" fill="#000" transform="matrix(1 0 0 1.03 0 -17.191)">1.0%</text><text x="1.60" y="589.56" font-size="13.78" fill="#000" transform="matrix(1 0 0 1.03 0 -17.687)">Roma et al (2000)</text><text x="232.60" y="589.56" font-size="13.78" text-anchor="end" fill="#000" transform="matrix(1 0 0 1.03 0 -17.687)">1</text><text x="272.60" y="589.56" font-size="13.78" text-anchor="end" fill="#000" transform="matrix(1 0 0 1.03 0 -17.687)">100</text><text x="351.70" y="589.56" font-size="13.78" text-anchor="end" fill="#000" transform="matrix(1 0 0 1.03 0 -17.687)">0.01</text><text x="429.30" y="589.56" font-size="13.78" text-anchor="end" fill="#000" transform="matrix(1 0 0 1.03 0 -17.687)">[0.00; 0.00]</text><text x="684.20" y="589.56" font-size="13.78" text-anchor="end" fill="#000" transform="matrix(1 0 0 1.03 0 -17.687)">1.9%</text><text x="1.60" y="606.09" font-size="13.78" fill="#000" transform="matrix(1 0 0 1.03 0 -18.183)">Samuel et al (2019)</text><text x="232.60" y="606.09" font-size="13.78" text-anchor="end" fill="#000" transform="matrix(1 0 0 1.03 0 -18.183)">3</text><text x="272.60" y="606.09" font-size="13.78" text-anchor="end" fill="#000" transform="matrix(1 0 0 1.03 0 -18.183)">13</text><text x="351.70" y="606.09" font-size="13.78" text-anchor="end" fill="#000" transform="matrix(1 0 0 1.03 0 -18.183)">0.23</text><text x="429.30" y="606.09" font-size="13.78" text-anchor="end" fill="#000" transform="matrix(1 0 0 1.03 0 -18.183)">[0.05; 0.54]</text><text x="684.20" y="606.09" font-size="13.78" text-anchor="end" fill="#000" transform="matrix(1 0 0 1.03 0 -18.183)">1.4%</text><text x="1.60" y="622.62" font-size="13.78" fill="#000" transform="matrix(1 0 0 1.03 0 -18.679)">Shah et al (2016)</text><text x="232.60" y="622.62" font-size="13.78" text-anchor="end" fill="#000" transform="matrix(1 0 0 1.03 0 -18.679)">1</text><text x="272.60" y="622.62" font-size="13.78" text-anchor="end" fill="#000" transform="matrix(1 0 0 1.03 0 -18.679)">19</text><text x="351.70" y="622.62" font-size="13.78" text-anchor="end" fill="#000" transform="matrix(1 0 0 1.03 0 -18.679)">0.05</text><text x="429.30" y="622.62" font-size="13.78" text-anchor="end" fill="#000" transform="matrix(1 0 0 1.03 0 -18.679)">[0.00; 0.26]</text><text x="684.20" y="622.62" font-size="13.78" text-anchor="end" fill="#000" transform="matrix(1 0 0 1.03 0 -18.679)">1.6%</text><text x="1.60" y="639.15" font-size="13.78" fill="#000" transform="matrix(1 0 0 1.03 0 -19.175)">Sharp et al (1995)</text><text x="232.60" y="639.15" font-size="13.78" text-anchor="end" fill="#000" transform="matrix(1 0 0 1.03 0 -19.175)">8</text><text x="272.60" y="639.15" font-size="13.78" text-anchor="end" fill="#000" transform="matrix(1 0 0 1.03 0 -19.175)">37</text><text x="351.70" y="639.15" font-size="13.78" text-anchor="end" fill="#000" transform="matrix(1 0 0 1.03 0 -19.175)">0.22</text><text x="429.30" y="639.15" font-size="13.78" text-anchor="end" fill="#000" transform="matrix(1 0 0 1.03 0 -19.175)">[0.09; 0.38]</text><text x="684.20" y="639.15" font-size="13.78" text-anchor="end" fill="#000" transform="matrix(1 0 0 1.03 0 -19.175)">1.7%</text><text x="1.60" y="655.68" font-size="13.78" fill="#000" transform="matrix(1 0 0 1.03 0 -19.670)">Teshome et al (2019)</text><text x="232.60" y="655.68" font-size="13.78" text-anchor="end" fill="#000" transform="matrix(1 0 0 1.03 0 -19.670)">10</text><text x="272.60" y="655.68" font-size="13.78" text-anchor="end" fill="#000" transform="matrix(1 0 0 1.03 0 -19.670)">22</text><text x="351.70" y="655.68" font-size="13.78" text-anchor="end" fill="#000" transform="matrix(1 0 0 1.03 0 -19.670)">0.45</text><text x="429.30" y="655.68" font-size="13.78" text-anchor="end" fill="#000" transform="matrix(1 0 0 1.03 0 -19.670)">[0.23; 0.69]</text><text x="684.20" y="655.68" font-size="13.78" text-anchor="end" fill="#000" transform="matrix(1 0 0 1.03 0 -19.670)">1.6%</text><text x="1.60" y="672.21" font-size="13.78" fill="#000" transform="matrix(1 0 0 1.03 0 -20.166)">Tiruneh (2009)</text><text x="232.60" y="672.21" font-size="13.78" text-anchor="end" fill="#000" transform="matrix(1 0 0 1.03 0 -20.166)">9</text><text x="272.60" y="672.21" font-size="13.78" text-anchor="end" fill="#000" transform="matrix(1 0 0 1.03 0 -20.166)">90</text><text x="351.70" y="672.21" font-size="13.78" text-anchor="end" fill="#000" transform="matrix(1 0 0 1.03 0 -20.166)">0.10</text><text x="429.30" y="672.21" font-size="13.78" text-anchor="end" fill="#000" transform="matrix(1 0 0 1.03 0 -20.166)">[0.03; 0.16]</text><text x="684.20" y="672.21" font-size="13.78" text-anchor="end" fill="#000" transform="matrix(1 0 0 1.03 0 -20.166)">1.9%</text><text x="1.60" y="688.74" font-size="13.78" fill="#000" transform="matrix(1 0 0 1.03 0 -20.662)">Tosisa et al (2020)</text><text x="232.60" y="688.74" font-size="13.78" text-anchor="end" fill="#000" transform="matrix(1 0 0 1.03 0 -20.662)">0</text><text x="272.60" y="688.74" font-size="13.78" text-anchor="end" fill="#000" transform="matrix(1 0 0 1.03 0 -20.662)">6</text><text x="351.70" y="688.74" font-size="13.78" text-anchor="end" fill="#000" transform="matrix(1 0 0 1.03 0 -20.662)">0.00</text><text x="429.30" y="688.74" font-size="13.78" text-anchor="end" fill="#000" transform="matrix(1 0 0 1.03 0 -20.662)">[0.01; 0.46]</text><text x="684.20" y="688.74" font-size="13.78" text-anchor="end" fill="#000" transform="matrix(1 0 0 1.03 0 -20.662)">1.1%</text><text x="1.60" y="705.27" font-size="13.78" fill="#000" transform="matrix(1 0 0 1.03 0 -21.158)">Webale et al (2020)</text><text x="232.60" y="705.27" font-size="13.78" text-anchor="end" fill="#000" transform="matrix(1 0 0 1.03 0 -21.158)">1</text><text x="272.60" y="705.27" font-size="13.78" text-anchor="end" fill="#000" transform="matrix(1 0 0 1.03 0 -21.158)">12</text><text x="351.70" y="705.27" font-size="13.78" text-anchor="end" fill="#000" transform="matrix(1 0 0 1.03 0 -21.158)">0.08</text><text x="429.30" y="705.27" font-size="13.78" text-anchor="end" fill="#000" transform="matrix(1 0 0 1.03 0 -21.158)">[0.00; 0.38]</text><text x="684.20" y="705.27" font-size="13.78" text-anchor="end" fill="#000" transform="matrix(1 0 0 1.03 0 -21.158)">1.4%</text><text x="1.60" y="721.80" font-size="13.78" font-weight="bold" fill="#b03060" transform="matrix(1 0 0 1.03 0 -21.654)">Random effects model</text><text x="272.60" y="721.80" font-size="13.78" font-weight="bold" text-anchor="end" fill="#b03060" transform="matrix(1 0 0 1.03 0 -21.654)">.</text><text x="351.70" y="721.80" font-size="13.78" font-weight="bold" text-anchor="end" fill="#b03060" transform="matrix(1 0 0 1.03 0 -21.654)">0.15</text><text x="429.30" y="721.80" font-size="13.78" font-weight="bold" text-anchor="end" fill="#b03060" transform="matrix(1 0 0 1.03 0 -21.654)">[0.08; 0.24]</text><text x="684.20" y="721.80" font-size="13.78" font-weight="bold" text-anchor="end" fill="#b03060" transform="matrix(1 0 0 1.03 0 -21.654)">41.0%</text><text x="1.60" y="737.53" font-size="11.48" fill="#b03060" transform="matrix(1 0 0 1.03 0 -22.126)">Heterogeneity: </text><text x="79.45" y="737.53" font-size="11.48" font-style="italic" fill="#b03060" transform="matrix(1 0 0 1.03 0 -22.126)">I</text><text x="82.94" y="733.23" font-size="8.4" fill="#b03060" transform="matrix(1 0 0 1.03 0 -21.997)">2</text><text x="88.52" y="737.53" font-size="11.48" fill="#b03060" transform="matrix(1 0 0 1.03 0 -22.126)"> = 90%, </text><text x="130.95" y="737.53" font-size="11.48" fill="#b03060" transform="matrix(1 0 0 1.03 0 -22.126)">τ</text><text x="136.09" y="733.23" font-size="8.4" fill="#b03060" transform="matrix(1 0 0 1.03 0 -21.997)">2</text><text x="141.56" y="737.53" font-size="11.48" fill="#b03060" transform="matrix(1 0 0 1.03 0 -22.126)"> = 0.0568, </text><text x="196.14" y="737.53" font-size="11.48" fill="#b03060" transform="matrix(1 0 0 1.03 0 -22.126)">χ</text><text x="202.16" y="733.23" font-size="8.4" fill="#b03060" transform="matrix(1 0 0 1.03 0 -21.997)">2</text><text x="202.16" y="740.53" font-size="8.4" fill="#b03060" transform="matrix(1 0 0 1.03 0 -22.216)">25</text><text x="211.81" y="737.53" font-size="11.48" fill="#b03060" transform="matrix(1 0 0 1.03 0 -22.126)"> = 253.59 (</text><text x="267.01" y="737.53" font-size="11.48" font-style="italic" fill="#b03060" transform="matrix(1 0 0 1.03 0 -22.126)">p</text><text x="273.40" y="737.53" font-size="11.48" fill="#b03060" transform="matrix(1 0 0 1.03 0 -22.126)"> &lt; 0.01)</text><text x="1.60" y="771.39" font-size="13.78" font-weight="bold" fill="#b03060" transform="matrix(1 0 0 1.03 0 -23.142)">Region = West</text><text x="1.60" y="787.92" font-size="13.78" fill="#000" transform="matrix(1 0 0 1.03 0 -23.638)">Afum et al (2022)</text><text x="232.60" y="787.92" font-size="13.78" text-anchor="end" fill="#000" transform="matrix(1 0 0 1.03 0 -23.638)">2</text><text x="272.60" y="787.92" font-size="13.78" text-anchor="end" fill="#000" transform="matrix(1 0 0 1.03 0 -23.638)">17</text><text x="351.70" y="787.92" font-size="13.78" text-anchor="end" fill="#000" transform="matrix(1 0 0 1.03 0 -23.638)">0.12</text><text x="429.30" y="787.92" font-size="13.78" text-anchor="end" fill="#000" transform="matrix(1 0 0 1.03 0 -23.638)">[0.01; 0.36]</text><text x="684.20" y="787.92" font-size="13.78" text-anchor="end" fill="#000" transform="matrix(1 0 0 1.03 0 -23.638)">1.5%</text><text x="1.60" y="804.45" font-size="13.78" fill="#000" transform="matrix(1 0 0 1.03 0 -24.134)">Ajayi et al (2019)</text><text x="232.60" y="804.45" font-size="13.78" text-anchor="end" fill="#000" transform="matrix(1 0 0 1.03 0 -24.134)">0</text><text x="272.60" y="804.45" font-size="13.78" text-anchor="end" fill="#000" transform="matrix(1 0 0 1.03 0 -24.134)">10</text><text x="351.70" y="804.45" font-size="13.78" text-anchor="end" fill="#000" transform="matrix(1 0 0 1.03 0 -24.134)">0.00</text><text x="429.30" y="804.45" font-size="13.78" text-anchor="end" fill="#000" transform="matrix(1 0 0 1.03 0 -24.134)">[0.01; 0.32]</text><text x="684.20" y="804.45" font-size="13.78" text-anchor="end" fill="#000" transform="matrix(1 0 0 1.03 0 -24.134)">1.3%</text><text x="1.60" y="820.98" font-size="13.78" fill="#000" transform="matrix(1 0 0 1.03 0 -24.629)">Antoine et al (2010)</text><text x="232.60" y="820.98" font-size="13.78" text-anchor="end" fill="#000" transform="matrix(1 0 0 1.03 0 -24.629)">1</text><text x="272.60" y="820.98" font-size="13.78" text-anchor="end" fill="#000" transform="matrix(1 0 0 1.03 0 -24.629)">41</text><text x="351.70" y="820.98" font-size="13.78" text-anchor="end" fill="#000" transform="matrix(1 0 0 1.03 0 -24.629)">0.02</text><text x="429.30" y="820.98" font-size="13.78" text-anchor="end" fill="#000" transform="matrix(1 0 0 1.03 0 -24.629)">[0.00; 0.12]</text><text x="684.20" y="820.98" font-size="13.78" text-anchor="end" fill="#000" transform="matrix(1 0 0 1.03 0 -24.629)">1.8%</text><text x="1.60" y="837.51" font-size="13.78" fill="#000" transform="matrix(1 0 0 1.03 0 -25.125)">Bonkungou et al (2013)</text><text x="232.60" y="837.51" font-size="13.78" text-anchor="end" fill="#000" transform="matrix(1 0 0 1.03 0 -25.125)">0</text><text x="272.60" y="837.51" font-size="13.78" text-anchor="end" fill="#000" transform="matrix(1 0 0 1.03 0 -25.125)">16</text><text x="351.70" y="837.51" font-size="13.78" text-anchor="end" fill="#000" transform="matrix(1 0 0 1.03 0 -25.125)">0.00</text><text x="429.30" y="837.51" font-size="13.78" text-anchor="end" fill="#000" transform="matrix(1 0 0 1.03 0 -25.125)">[0.01; 0.22]</text><text x="684.20" y="837.51" font-size="13.78" text-anchor="end" fill="#000" transform="matrix(1 0 0 1.03 0 -25.125)">1.5%</text><text x="1.60" y="854.04" font-size="13.78" fill="#000" transform="matrix(1 0 0 1.03 0 -25.621)">Dije-Maletz et al (2008)</text><text x="232.60" y="854.04" font-size="13.78" text-anchor="end" fill="#000" transform="matrix(1 0 0 1.03 0 -25.621)">0</text><text x="272.60" y="854.04" font-size="13.78" text-anchor="end" fill="#000" transform="matrix(1 0 0 1.03 0 -25.621)">5</text><text x="351.70" y="854.04" font-size="13.78" text-anchor="end" fill="#000" transform="matrix(1 0 0 1.03 0 -25.621)">0.00</text><text x="429.30" y="854.04" font-size="13.78" text-anchor="end" fill="#000" transform="matrix(1 0 0 1.03 0 -25.621)">[0.04; 0.52]</text><text x="684.20" y="854.04" font-size="13.78" text-anchor="end" fill="#000" transform="matrix(1 0 0 1.03 0 -25.621)">1.0%</text><text x="1.60" y="870.57" font-size="13.78" fill="#000" transform="matrix(1 0 0 1.03 0 -26.117)">Feglo et al (2019)</text><text x="232.60" y="870.57" font-size="13.78" text-anchor="end" fill="#000" transform="matrix(1 0 0 1.03 0 -26.117)">0</text><text x="272.60" y="870.57" font-size="13.78" text-anchor="end" fill="#000" transform="matrix(1 0 0 1.03 0 -26.117)">3</text><text x="351.70" y="870.57" font-size="13.78" text-anchor="end" fill="#000" transform="matrix(1 0 0 1.03 0 -26.117)">0.00</text><text x="429.30" y="870.57" font-size="13.78" text-anchor="end" fill="#000" transform="matrix(1 0 0 1.03 0 -26.117)">[0.00; 0.71]</text><text x="684.20" y="870.57" font-size="13.78" text-anchor="end" fill="#000" transform="matrix(1 0 0 1.03 0 -26.117)">0.8%</text><text x="1.60" y="887.10" font-size="13.78" fill="#000" transform="matrix(1 0 0 1.03 0 -26.613)">Illa et al (2022)</text><text x="232.60" y="887.10" font-size="13.78" text-anchor="end" fill="#000" transform="matrix(1 0 0 1.03 0 -26.613)">0</text><text x="272.60" y="887.10" font-size="13.78" text-anchor="end" fill="#000" transform="matrix(1 0 0 1.03 0 -26.613)">16</text><text x="351.70" y="887.10" font-size="13.78" text-anchor="end" fill="#000" transform="matrix(1 0 0 1.03 0 -26.613)">0.00</text><text x="429.30" y="887.10" font-size="13.78" text-anchor="end" fill="#000" transform="matrix(1 0 0 1.03 0 -26.613)">[0.00; 0.21]</text><text x="684.20" y="887.10" font-size="13.78" text-anchor="end" fill="#000" transform="matrix(1 0 0 1.03 0 -26.613)">1.5%</text><text x="1.60" y="903.63" font-size="13.78" fill="#000" transform="matrix(1 0 0 1.03 0 -27.109)">Imade et al (2015)</text><text x="232.60" y="903.63" font-size="13.78" text-anchor="end" fill="#000" transform="matrix(1 0 0 1.03 0 -27.109)">0</text><text x="272.60" y="903.63" font-size="13.78" text-anchor="end" fill="#000" transform="matrix(1 0 0 1.03 0 -27.109)">4</text><text x="351.70" y="903.63" font-size="13.78" text-anchor="end" fill="#000" transform="matrix(1 0 0 1.03 0 -27.109)">0.00</text><text x="429.30" y="903.63" font-size="13.78" text-anchor="end" fill="#000" transform="matrix(1 0 0 1.03 0 -27.109)">[0.00; 0.61]</text><text x="684.20" y="903.63" font-size="13.78" text-anchor="end" fill="#000" transform="matrix(1 0 0 1.03 0 -27.109)">0.9%</text><text x="1.60" y="920.16" font-size="13.78" fill="#000" transform="matrix(1 0 0 1.03 0 -27.605)">Iwalokun et al (2001)</text><text x="232.60" y="920.16" font-size="13.78" text-anchor="end" fill="#000" transform="matrix(1 0 0 1.03 0 -27.605)">11</text><text x="272.60" y="920.16" font-size="13.78" text-anchor="end" fill="#000" transform="matrix(1 0 0 1.03 0 -27.605)">62</text><text x="351.70" y="920.16" font-size="13.78" text-anchor="end" fill="#000" transform="matrix(1 0 0 1.03 0 -27.605)">0.18</text><text x="429.30" y="920.16" font-size="13.78" text-anchor="end" fill="#000" transform="matrix(1 0 0 1.03 0 -27.605)">[0.00; 0.16]</text><text x="684.20" y="920.16" font-size="13.78" text-anchor="end" fill="#000" transform="matrix(1 0 0 1.03 0 -27.605)">1.8%</text><text x="1.60" y="936.69" font-size="13.78" fill="#000" transform="matrix(1 0 0 1.03 0 -28.101)">Kasumba et al (2023) Gambia</text><text x="232.60" y="936.69" font-size="13.78" text-anchor="end" fill="#000" transform="matrix(1 0 0 1.03 0 -28.101)">11</text><text x="272.60" y="936.69" font-size="13.78" text-anchor="end" fill="#000" transform="matrix(1 0 0 1.03 0 -28.101)">264</text><text x="351.70" y="936.69" font-size="13.78" text-anchor="end" fill="#000" transform="matrix(1 0 0 1.03 0 -28.101)">0.04</text><text x="429.30" y="936.69" font-size="13.78" text-anchor="end" fill="#000" transform="matrix(1 0 0 1.03 0 -28.101)">[0.02; 0.07]</text><text x="684.20" y="936.69" font-size="13.78" text-anchor="end" fill="#000" transform="matrix(1 0 0 1.03 0 -28.101)">2.0%</text><text x="1.60" y="953.22" font-size="13.78" fill="#000" transform="matrix(1 0 0 1.03 0 -28.597)">Kasumba et al (2023) Mali</text><text x="232.60" y="953.22" font-size="13.78" text-anchor="end" fill="#000" transform="matrix(1 0 0 1.03 0 -28.597)">1</text><text x="272.60" y="953.22" font-size="13.78" text-anchor="end" fill="#000" transform="matrix(1 0 0 1.03 0 -28.597)">18</text><text x="351.70" y="953.22" font-size="13.78" text-anchor="end" fill="#000" transform="matrix(1 0 0 1.03 0 -28.597)">0.06</text><text x="429.30" y="953.22" font-size="13.78" text-anchor="end" fill="#000" transform="matrix(1 0 0 1.03 0 -28.597)">[0.01; 0.28]</text><text x="684.20" y="953.22" font-size="13.78" text-anchor="end" fill="#000" transform="matrix(1 0 0 1.03 0 -28.597)">1.5%</text><text x="1.60" y="969.75" font-size="13.78" fill="#000" transform="matrix(1 0 0 1.03 0 -29.093)">Lawande et al (1987)</text><text x="232.60" y="969.75" font-size="13.78" text-anchor="end" fill="#000" transform="matrix(1 0 0 1.03 0 -29.093)">52</text><text x="272.60" y="969.75" font-size="13.78" text-anchor="end" fill="#000" transform="matrix(1 0 0 1.03 0 -29.093)">362</text><text x="351.70" y="969.75" font-size="13.78" text-anchor="end" fill="#000" transform="matrix(1 0 0 1.03 0 -29.093)">0.14</text><text x="429.30" y="969.75" font-size="13.78" text-anchor="end" fill="#000" transform="matrix(1 0 0 1.03 0 -29.093)">[0.10; 0.18]</text><text x="684.20" y="969.75" font-size="13.78" text-anchor="end" fill="#000" transform="matrix(1 0 0 1.03 0 -29.093)">2.0%</text><text x="1.60" y="986.28" font-size="13.78" fill="#000" transform="matrix(1 0 0 1.03 0 -29.588)">Moses et al (2023)</text><text x="232.60" y="986.28" font-size="13.78" text-anchor="end" fill="#000" transform="matrix(1 0 0 1.03 0 -29.588)">6</text><text x="272.60" y="986.28" font-size="13.78" text-anchor="end" fill="#000" transform="matrix(1 0 0 1.03 0 -29.588)">8</text><text x="351.70" y="986.28" font-size="13.78" text-anchor="end" fill="#000" transform="matrix(1 0 0 1.03 0 -29.588)">0.75</text><text x="429.30" y="986.28" font-size="13.78" text-anchor="end" fill="#000" transform="matrix(1 0 0 1.03 0 -29.588)">[0.36; 0.93]</text><text x="684.20" y="986.28" font-size="13.78" text-anchor="end" fill="#000" transform="matrix(1 0 0 1.03 0 -29.588)">1.2%</text><text x="1.60" y="1002.81" font-size="13.78" fill="#000" transform="matrix(1 0 0 1.03 0 -30.084)">Ngoshe et al (2017)</text><text x="232.60" y="1002.81" font-size="13.78" text-anchor="end" fill="#000" transform="matrix(1 0 0 1.03 0 -30.084)">12</text><text x="272.60" y="1002.81" font-size="13.78" text-anchor="end" fill="#000" transform="matrix(1 0 0 1.03 0 -30.084)">32</text><text x="351.70" y="1002.81" font-size="13.78" text-anchor="end" fill="#000" transform="matrix(1 0 0 1.03 0 -30.084)">0.38</text><text x="429.30" y="1002.81" font-size="13.78" text-anchor="end" fill="#000" transform="matrix(1 0 0 1.03 0 -30.084)">[0.17; 0.57]</text><text x="684.20" y="1002.81" font-size="13.78" text-anchor="end" fill="#000" transform="matrix(1 0 0 1.03 0 -30.084)">1.7%</text><text x="1.60" y="1019.34" font-size="13.78" fill="#000" transform="matrix(1 0 0 1.03 0 -30.580)">Nitiema et al (2011)</text><text x="232.60" y="1019.34" font-size="13.78" text-anchor="end" fill="#000" transform="matrix(1 0 0 1.03 0 -30.580)">0</text><text x="272.60" y="1019.34" font-size="13.78" text-anchor="end" fill="#000" transform="matrix(1 0 0 1.03 0 -30.580)">18</text><text x="351.70" y="1019.34" font-size="13.78" text-anchor="end" fill="#000" transform="matrix(1 0 0 1.03 0 -30.580)">0.00</text><text x="429.30" y="1019.34" font-size="13.78" text-anchor="end" fill="#000" transform="matrix(1 0 0 1.03 0 -30.580)">[0.00; 0.15]</text><text x="684.20" y="1019.34" font-size="13.78" text-anchor="end" fill="#000" transform="matrix(1 0 0 1.03 0 -30.580)">1.5%</text><text x="1.60" y="1035.87" font-size="13.78" fill="#000" transform="matrix(1 0 0 1.03 0 -31.076)">Ogunsanya et al (1994)</text><text x="232.60" y="1035.87" font-size="13.78" text-anchor="end" fill="#000" transform="matrix(1 0 0 1.03 0 -31.076)">2</text><text x="272.60" y="1035.87" font-size="13.78" text-anchor="end" fill="#000" transform="matrix(1 0 0 1.03 0 -31.076)">16</text><text x="351.70" y="1035.87" font-size="13.78" text-anchor="end" fill="#000" transform="matrix(1 0 0 1.03 0 -31.076)">0.12</text><text x="429.30" y="1035.87" font-size="13.78" text-anchor="end" fill="#000" transform="matrix(1 0 0 1.03 0 -31.076)">[0.03; 0.39]</text><text x="684.20" y="1035.87" font-size="13.78" text-anchor="end" fill="#000" transform="matrix(1 0 0 1.03 0 -31.076)">1.5%</text><text x="1.60" y="1052.40" font-size="13.78" fill="#000" transform="matrix(1 0 0 1.03 0 -31.572)">Opintan et al (2010)</text><text x="232.60" y="1052.40" font-size="13.78" text-anchor="end" fill="#000" transform="matrix(1 0 0 1.03 0 -31.572)">0</text><text x="272.60" y="1052.40" font-size="13.78" text-anchor="end" fill="#000" transform="matrix(1 0 0 1.03 0 -31.572)">1</text><text x="351.70" y="1052.40" font-size="13.78" text-anchor="end" fill="#000" transform="matrix(1 0 0 1.03 0 -31.572)">0.00</text><text x="429.30" y="1052.40" font-size="13.78" text-anchor="end" fill="#000" transform="matrix(1 0 0 1.03 0 -31.572)">[0.14; 0.82]</text><text x="684.20" y="1052.40" font-size="13.78" text-anchor="end" fill="#000" transform="matrix(1 0 0 1.03 0 -31.572)">0.4%</text><text x="1.60" y="1068.93" font-size="13.78" fill="#000" transform="matrix(1 0 0 1.03 0 -32.068)">Reither et al (2007)</text><text x="232.60" y="1068.93" font-size="13.78" text-anchor="end" fill="#000" transform="matrix(1 0 0 1.03 0 -32.068)">0</text><text x="272.60" y="1068.93" font-size="13.78" text-anchor="end" fill="#000" transform="matrix(1 0 0 1.03 0 -32.068)">5</text><text x="351.70" y="1068.93" font-size="13.78" text-anchor="end" fill="#000" transform="matrix(1 0 0 1.03 0 -32.068)">0.00</text><text x="429.30" y="1068.93" font-size="13.78" text-anchor="end" fill="#000" transform="matrix(1 0 0 1.03 0 -32.068)">[0.02; 0.52]</text><text x="684.20" y="1068.93" font-size="13.78" text-anchor="end" fill="#000" transform="matrix(1 0 0 1.03 0 -32.068)">1.0%</text><text x="1.60" y="1085.46" font-size="13.78" fill="#000" transform="matrix(1 0 0 1.03 0 -32.564)">Sire et al (2013)</text><text x="232.60" y="1085.46" font-size="13.78" text-anchor="end" fill="#000" transform="matrix(1 0 0 1.03 0 -32.564)">0</text><text x="272.60" y="1085.46" font-size="13.78" text-anchor="end" fill="#000" transform="matrix(1 0 0 1.03 0 -32.564)">21</text><text x="351.70" y="1085.46" font-size="13.78" text-anchor="end" fill="#000" transform="matrix(1 0 0 1.03 0 -32.564)">0.00</text><text x="429.30" y="1085.46" font-size="13.78" text-anchor="end" fill="#000" transform="matrix(1 0 0 1.03 0 -32.564)">[0.00; 0.16]</text><text x="684.20" y="1085.46" font-size="13.78" text-anchor="end" fill="#000" transform="matrix(1 0 0 1.03 0 -32.564)">1.6%</text><text x="1.60" y="1101.99" font-size="13.78" fill="#000" transform="matrix(1 0 0 1.03 0 -33.060)">Udo and Eja (2004)</text><text x="232.60" y="1101.99" font-size="13.78" text-anchor="end" fill="#000" transform="matrix(1 0 0 1.03 0 -33.060)">0</text><text x="272.60" y="1101.99" font-size="13.78" text-anchor="end" fill="#000" transform="matrix(1 0 0 1.03 0 -33.060)">123</text><text x="351.70" y="1101.99" font-size="13.78" text-anchor="end" fill="#000" transform="matrix(1 0 0 1.03 0 -33.060)">0.00</text><text x="429.30" y="1101.99" font-size="13.78" text-anchor="end" fill="#000" transform="matrix(1 0 0 1.03 0 -33.060)">[0.00; 0.02]</text><text x="684.20" y="1101.99" font-size="13.78" text-anchor="end" fill="#000" transform="matrix(1 0 0 1.03 0 -33.060)">1.9%</text><text x="1.60" y="1118.52" font-size="13.78" font-weight="bold" fill="#b03060" transform="matrix(1 0 0 1.03 0 -33.556)">Random effects model</text><text x="272.60" y="1118.52" font-size="13.78" font-weight="bold" text-anchor="end" fill="#b03060" transform="matrix(1 0 0 1.03 0 -33.556)">.</text><text x="351.70" y="1118.52" font-size="13.78" font-weight="bold" text-anchor="end" fill="#b03060" transform="matrix(1 0 0 1.03 0 -33.556)">0.04</text><text x="429.30" y="1118.52" font-size="13.78" font-weight="bold" text-anchor="end" fill="#b03060" transform="matrix(1 0 0 1.03 0 -33.556)">[0.00; 0.10]</text><text x="684.20" y="1118.52" font-size="13.78" font-weight="bold" text-anchor="end" fill="#b03060" transform="matrix(1 0 0 1.03 0 -33.556)">28.5%</text><text x="1.60" y="1134.25" font-size="11.48" fill="#b03060" transform="matrix(1 0 0 1.03 0 -34.028)">Heterogeneity: </text><text x="79.45" y="1134.25" font-size="11.48" font-style="italic" fill="#b03060" transform="matrix(1 0 0 1.03 0 -34.028)">I</text><text x="82.94" y="1129.95" font-size="8.4" fill="#b03060" transform="matrix(1 0 0 1.03 0 -33.899)">2</text><text x="88.52" y="1134.25" font-size="11.48" fill="#b03060" transform="matrix(1 0 0 1.03 0 -34.028)"> = 82%, </text><text x="130.95" y="1134.25" font-size="11.48" fill="#b03060" transform="matrix(1 0 0 1.03 0 -34.028)">τ</text><text x="136.09" y="1129.95" font-size="8.4" fill="#b03060" transform="matrix(1 0 0 1.03 0 -33.899)">2</text><text x="141.56" y="1134.25" font-size="11.48" fill="#b03060" transform="matrix(1 0 0 1.03 0 -34.028)"> = 0.0333, </text><text x="196.14" y="1134.25" font-size="11.48" fill="#b03060" transform="matrix(1 0 0 1.03 0 -34.028)">χ</text><text x="202.16" y="1129.95" font-size="8.4" fill="#b03060" transform="matrix(1 0 0 1.03 0 -33.899)">2</text><text x="202.16" y="1137.25" font-size="8.4" fill="#b03060" transform="matrix(1 0 0 1.03 0 -34.118)">19</text><text x="211.81" y="1134.25" font-size="11.48" fill="#b03060" transform="matrix(1 0 0 1.03 0 -34.028)"> = 105.78 (</text><text x="267.01" y="1134.25" font-size="11.48" font-style="italic" fill="#b03060" transform="matrix(1 0 0 1.03 0 -34.028)">p</text><text x="273.40" y="1134.25" font-size="11.48" fill="#b03060" transform="matrix(1 0 0 1.03 0 -34.028)"> &lt; 0.01)</text><text x="1.60" y="1168.11" font-size="13.78" font-weight="bold" fill="#b03060" transform="matrix(1 0 0 1.03 0 -35.043)">Region = South</text><text x="1.60" y="1184.64" font-size="13.78" fill="#000" transform="matrix(1 0 0 1.03 0 -35.539)">Amukoshi et al (2017)</text><text x="232.60" y="1184.64" font-size="13.78" text-anchor="end" fill="#000" transform="matrix(1 0 0 1.03 0 -35.539)">2</text><text x="272.60" y="1184.64" font-size="13.78" text-anchor="end" fill="#000" transform="matrix(1 0 0 1.03 0 -35.539)">19</text><text x="351.70" y="1184.64" font-size="13.78" text-anchor="end" fill="#000" transform="matrix(1 0 0 1.03 0 -35.539)">0.11</text><text x="429.30" y="1184.64" font-size="13.78" text-anchor="end" fill="#000" transform="matrix(1 0 0 1.03 0 -35.539)">[0.01; 0.33]</text><text x="684.20" y="1184.64" font-size="13.78" text-anchor="end" fill="#000" transform="matrix(1 0 0 1.03 0 -35.539)">1.6%</text><text x="1.60" y="1201.17" font-size="13.78" fill="#000" transform="matrix(1 0 0 1.03 0 -36.035)">Chiyangi et al (2017)</text><text x="232.60" y="1201.17" font-size="13.78" text-anchor="end" fill="#000" transform="matrix(1 0 0 1.03 0 -36.035)">4</text><text x="272.60" y="1201.17" font-size="13.78" text-anchor="end" fill="#000" transform="matrix(1 0 0 1.03 0 -36.035)">12</text><text x="351.70" y="1201.17" font-size="13.78" text-anchor="end" fill="#000" transform="matrix(1 0 0 1.03 0 -36.035)">0.33</text><text x="429.30" y="1201.17" font-size="13.78" text-anchor="end" fill="#000" transform="matrix(1 0 0 1.03 0 -36.035)">[0.12; 0.64]</text><text x="684.20" y="1201.17" font-size="13.78" text-anchor="end" fill="#000" transform="matrix(1 0 0 1.03 0 -36.035)">1.4%</text><text x="1.60" y="1217.70" font-size="13.78" fill="#000" transform="matrix(1 0 0 1.03 0 -36.531)">Kalule et al (2019)</text><text x="232.60" y="1217.70" font-size="13.78" text-anchor="end" fill="#000" transform="matrix(1 0 0 1.03 0 -36.531)">0</text><text x="272.60" y="1217.70" font-size="13.78" text-anchor="end" fill="#000" transform="matrix(1 0 0 1.03 0 -36.531)">11</text><text x="351.70" y="1217.70" font-size="13.78" text-anchor="end" fill="#000" transform="matrix(1 0 0 1.03 0 -36.531)">0.00</text><text x="429.30" y="1217.70" font-size="13.78" text-anchor="end" fill="#000" transform="matrix(1 0 0 1.03 0 -36.531)">[0.01; 0.29]</text><text x="684.20" y="1217.70" font-size="13.78" text-anchor="end" fill="#000" transform="matrix(1 0 0 1.03 0 -36.531)">1.3%</text><text x="1.60" y="1234.23" font-size="13.78" fill="#000" transform="matrix(1 0 0 1.03 0 -37.027)">Urio et al (2001)</text><text x="232.60" y="1234.23" font-size="13.78" text-anchor="end" fill="#000" transform="matrix(1 0 0 1.03 0 -37.027)">0</text><text x="272.60" y="1234.23" font-size="13.78" text-anchor="end" fill="#000" transform="matrix(1 0 0 1.03 0 -37.027)">45</text><text x="351.70" y="1234.23" font-size="13.78" text-anchor="end" fill="#000" transform="matrix(1 0 0 1.03 0 -37.027)">0.00</text><text x="429.30" y="1234.23" font-size="13.78" text-anchor="end" fill="#000" transform="matrix(1 0 0 1.03 0 -37.027)">[0.00; 0.08]</text><text x="684.20" y="1234.23" font-size="13.78" text-anchor="end" fill="#000" transform="matrix(1 0 0 1.03 0 -37.027)">1.8%</text><text x="1.60" y="1250.76" font-size="13.78" font-weight="bold" fill="#b03060" transform="matrix(1 0 0 1.03 0 -37.523)">Random effects model</text><text x="272.60" y="1250.76" font-size="13.78" font-weight="bold" text-anchor="end" fill="#b03060" transform="matrix(1 0 0 1.03 0 -37.523)">.</text><text x="351.70" y="1250.76" font-size="13.78" font-weight="bold" text-anchor="end" fill="#b03060" transform="matrix(1 0 0 1.03 0 -37.523)">0.06</text><text x="429.30" y="1250.76" font-size="13.78" font-weight="bold" text-anchor="end" fill="#b03060" transform="matrix(1 0 0 1.03 0 -37.523)">[0.00; 0.24]</text><text x="684.20" y="1250.76" font-size="13.78" font-weight="bold" text-anchor="end" fill="#b03060" transform="matrix(1 0 0 1.03 0 -37.523)">6.1%</text><text x="1.60" y="1266.49" font-size="11.48" fill="#b03060" transform="matrix(1 0 0 1.03 0 -37.995)">Heterogeneity: </text><text x="79.45" y="1266.49" font-size="11.48" font-style="italic" fill="#b03060" transform="matrix(1 0 0 1.03 0 -37.995)">I</text><text x="82.94" y="1262.19" font-size="8.4" fill="#b03060" transform="matrix(1 0 0 1.03 0 -37.866)">2</text><text x="88.52" y="1266.49" font-size="11.48" fill="#b03060" transform="matrix(1 0 0 1.03 0 -37.995)"> = 79%, </text><text x="130.95" y="1266.49" font-size="11.48" fill="#b03060" transform="matrix(1 0 0 1.03 0 -37.995)">τ</text><text x="136.09" y="1262.19" font-size="8.4" fill="#b03060" transform="matrix(1 0 0 1.03 0 -37.866)">2</text><text x="141.56" y="1266.49" font-size="11.48" fill="#b03060" transform="matrix(1 0 0 1.03 0 -37.995)"> = 0.0463, </text><text x="196.14" y="1266.49" font-size="11.48" fill="#b03060" transform="matrix(1 0 0 1.03 0 -37.995)">χ</text><text x="202.16" y="1262.19" font-size="8.4" fill="#b03060" transform="matrix(1 0 0 1.03 0 -37.866)">2</text><text x="202.16" y="1269.49" font-size="8.4" fill="#b03060" transform="matrix(1 0 0 1.03 0 -38.085)">3</text><text x="207.13" y="1266.49" font-size="11.48" fill="#b03060" transform="matrix(1 0 0 1.03 0 -37.995)"> = 13.99 (</text><text x="255.96" y="1266.49" font-size="11.48" font-style="italic" fill="#b03060" transform="matrix(1 0 0 1.03 0 -37.995)">p</text><text x="262.34" y="1266.49" font-size="11.48" fill="#b03060" transform="matrix(1 0 0 1.03 0 -37.995)"> &lt; 0.01)</text><text x="1.60" y="1300.35" font-size="13.78" font-weight="bold" fill="#b03060" transform="matrix(1 0 0 1.03 0 -39.011)">Region = Central</text><text x="1.60" y="1316.88" font-size="13.78" fill="#000" transform="matrix(1 0 0 1.03 0 -39.506)">Bercion et al (2008)</text><text x="232.60" y="1316.88" font-size="13.78" text-anchor="end" fill="#000" transform="matrix(1 0 0 1.03 0 -39.506)">47</text><text x="272.60" y="1316.88" font-size="13.78" text-anchor="end" fill="#000" transform="matrix(1 0 0 1.03 0 -39.506)">155</text><text x="351.70" y="1316.88" font-size="13.78" text-anchor="end" fill="#000" transform="matrix(1 0 0 1.03 0 -39.506)">0.30</text><text x="429.30" y="1316.88" font-size="13.78" text-anchor="end" fill="#000" transform="matrix(1 0 0 1.03 0 -39.506)">[0.19; 0.36]</text><text x="684.20" y="1316.88" font-size="13.78" text-anchor="end" fill="#000" transform="matrix(1 0 0 1.03 0 -39.506)">1.9%</text><text x="1.60" y="1333.41" font-size="13.78" fill="#000" transform="matrix(1 0 0 1.03 0 -40.002)">Khan et al (2013)</text><text x="232.60" y="1333.41" font-size="13.78" text-anchor="end" fill="#000" transform="matrix(1 0 0 1.03 0 -40.002)">181</text><text x="272.60" y="1333.41" font-size="13.78" text-anchor="end" fill="#000" transform="matrix(1 0 0 1.03 0 -40.002)">804</text><text x="351.70" y="1333.41" font-size="13.78" text-anchor="end" fill="#000" transform="matrix(1 0 0 1.03 0 -40.002)">0.23</text><text x="429.30" y="1333.41" font-size="13.78" text-anchor="end" fill="#000" transform="matrix(1 0 0 1.03 0 -40.002)">[0.19; 0.25]</text><text x="684.20" y="1333.41" font-size="13.78" text-anchor="end" fill="#000" transform="matrix(1 0 0 1.03 0 -40.002)">2.0%</text><text x="1.60" y="1349.94" font-size="13.78" fill="#000" transform="matrix(1 0 0 1.03 0 -40.498)">Lontsi et al (2017)</text><text x="232.60" y="1349.94" font-size="13.78" text-anchor="end" fill="#000" transform="matrix(1 0 0 1.03 0 -40.498)">6</text><text x="272.60" y="1349.94" font-size="13.78" text-anchor="end" fill="#000" transform="matrix(1 0 0 1.03 0 -40.498)">182</text><text x="351.70" y="1349.94" font-size="13.78" text-anchor="end" fill="#000" transform="matrix(1 0 0 1.03 0 -40.498)">0.03</text><text x="429.30" y="1349.94" font-size="13.78" text-anchor="end" fill="#000" transform="matrix(1 0 0 1.03 0 -40.498)">[0.01; 0.06]</text><text x="684.20" y="1349.94" font-size="13.78" text-anchor="end" fill="#000" transform="matrix(1 0 0 1.03 0 -40.498)">1.9%</text><text x="1.60" y="1366.47" font-size="13.78" fill="#000" transform="matrix(1 0 0 1.03 0 -40.994)">Mabika et al (2020)</text><text x="232.60" y="1366.47" font-size="13.78" text-anchor="end" fill="#000" transform="matrix(1 0 0 1.03 0 -40.994)">0</text><text x="272.60" y="1366.47" font-size="13.78" text-anchor="end" fill="#000" transform="matrix(1 0 0 1.03 0 -40.994)">5</text><text x="351.70" y="1366.47" font-size="13.78" text-anchor="end" fill="#000" transform="matrix(1 0 0 1.03 0 -40.994)">0.00</text><text x="429.30" y="1366.47" font-size="13.78" text-anchor="end" fill="#000" transform="matrix(1 0 0 1.03 0 -40.994)">[0.04; 0.52]</text><text x="684.20" y="1366.47" font-size="13.78" text-anchor="end" fill="#000" transform="matrix(1 0 0 1.03 0 -40.994)">1.0%</text><text x="1.60" y="1383.00" font-size="13.78" fill="#000" transform="matrix(1 0 0 1.03 0 -41.490)">Nkengkana et al (2023)</text><text x="232.60" y="1383.00" font-size="13.78" text-anchor="end" fill="#000" transform="matrix(1 0 0 1.03 0 -41.490)">0</text><text x="272.60" y="1383.00" font-size="13.78" text-anchor="end" fill="#000" transform="matrix(1 0 0 1.03 0 -41.490)">3</text><text x="351.70" y="1383.00" font-size="13.78" text-anchor="end" fill="#000" transform="matrix(1 0 0 1.03 0 -41.490)">0.00</text><text x="429.30" y="1383.00" font-size="13.78" text-anchor="end" fill="#000" transform="matrix(1 0 0 1.03 0 -41.490)">[0.04; 0.67]</text><text x="684.20" y="1383.00" font-size="13.78" text-anchor="end" fill="#000" transform="matrix(1 0 0 1.03 0 -41.490)">0.8%</text><text x="1.60" y="1399.53" font-size="13.78" font-weight="bold" fill="#b03060" transform="matrix(1 0 0 1.03 0 -41.986)">Random effects model</text><text x="272.60" y="1399.53" font-size="13.78" font-weight="bold" text-anchor="end" fill="#b03060" transform="matrix(1 0 0 1.03 0 -41.986)">.</text><text x="351.70" y="1399.53" font-size="13.78" font-weight="bold" text-anchor="end" fill="#b03060" transform="matrix(1 0 0 1.03 0 -41.986)">0.11</text><text x="429.30" y="1399.53" font-size="13.78" font-weight="bold" text-anchor="end" fill="#b03060" transform="matrix(1 0 0 1.03 0 -41.986)">[0.01; 0.27]</text><text x="684.20" y="1399.53" font-size="13.78" font-weight="bold" text-anchor="end" fill="#b03060" transform="matrix(1 0 0 1.03 0 -41.986)">7.6%</text><text x="1.60" y="1415.26" font-size="11.48" fill="#b03060" transform="matrix(1 0 0 1.03 0 -42.458)">Heterogeneity: </text><text x="79.45" y="1415.26" font-size="11.48" font-style="italic" fill="#b03060" transform="matrix(1 0 0 1.03 0 -42.458)">I</text><text x="82.94" y="1410.96" font-size="8.4" fill="#b03060" transform="matrix(1 0 0 1.03 0 -42.329)">2</text><text x="88.52" y="1415.26" font-size="11.48" fill="#b03060" transform="matrix(1 0 0 1.03 0 -42.458)"> = 94%, </text><text x="130.95" y="1415.26" font-size="11.48" fill="#b03060" transform="matrix(1 0 0 1.03 0 -42.458)">τ</text><text x="136.09" y="1410.96" font-size="8.4" fill="#b03060" transform="matrix(1 0 0 1.03 0 -42.329)">2</text><text x="141.56" y="1415.26" font-size="11.48" fill="#b03060" transform="matrix(1 0 0 1.03 0 -42.458)"> = 0.0323, </text><text x="196.14" y="1415.26" font-size="11.48" fill="#b03060" transform="matrix(1 0 0 1.03 0 -42.458)">χ</text><text x="202.16" y="1410.96" font-size="8.4" fill="#b03060" transform="matrix(1 0 0 1.03 0 -42.329)">2</text><text x="202.16" y="1418.26" font-size="8.4" fill="#b03060" transform="matrix(1 0 0 1.03 0 -42.548)">4</text><text x="207.13" y="1415.26" font-size="11.48" fill="#b03060" transform="matrix(1 0 0 1.03 0 -42.458)"> = 68.83 (</text><text x="255.96" y="1415.26" font-size="11.48" font-style="italic" fill="#b03060" transform="matrix(1 0 0 1.03 0 -42.458)">p</text><text x="262.34" y="1415.26" font-size="11.48" fill="#b03060" transform="matrix(1 0 0 1.03 0 -42.458)"> &lt; 0.01)</text><text x="1.60" y="1449.12" font-size="13.78" font-weight="bold" fill="#000" transform="matrix(1 0 0 1.03 0 -43.474)">Random effects model</text><text x="272.60" y="1449.12" font-size="13.78" font-weight="bold" text-anchor="end" fill="#000" transform="matrix(1 0 0 1.03 0 -43.474)">.</text><text x="351.70" y="1449.12" font-size="13.78" font-weight="bold" text-anchor="end" fill="#000" transform="matrix(1 0 0 1.03 0 -43.474)">0.10</text><text x="429.30" y="1449.12" font-size="13.78" font-weight="bold" text-anchor="end" fill="#000" transform="matrix(1 0 0 1.03 0 -43.474)">[0.06; 0.14]</text><text x="684.20" y="1449.12" font-size="13.78" font-weight="bold" text-anchor="end" fill="#000" transform="matrix(1 0 0 1.03 0 -43.474)">100.0%</text><text x="1.60" y="1464.85" font-size="11.48" fill="#000" transform="matrix(1 0 0 1.03 0 -43.946)">Heterogeneity: </text><text x="79.45" y="1464.85" font-size="11.48" font-style="italic" fill="#000" transform="matrix(1 0 0 1.03 0 -43.946)">I</text><text x="82.94" y="1460.55" font-size="8.4" fill="#000" transform="matrix(1 0 0 1.03 0 -43.817)">2</text><text x="88.52" y="1464.85" font-size="11.48" fill="#000" transform="matrix(1 0 0 1.03 0 -43.946)"> = 89%, </text><text x="130.95" y="1464.85" font-size="11.48" fill="#000" transform="matrix(1 0 0 1.03 0 -43.946)">τ</text><text x="136.09" y="1460.55" font-size="8.4" fill="#000" transform="matrix(1 0 0 1.03 0 -43.817)">2</text><text x="141.56" y="1464.85" font-size="11.48" fill="#000" transform="matrix(1 0 0 1.03 0 -43.946)"> = 0.0444, </text><text x="196.14" y="1464.85" font-size="11.48" fill="#000" transform="matrix(1 0 0 1.03 0 -43.946)">χ</text><text x="202.16" y="1460.55" font-size="8.4" fill="#000" transform="matrix(1 0 0 1.03 0 -43.817)">2</text><text x="202.16" y="1467.85" font-size="8.4" fill="#000" transform="matrix(1 0 0 1.03 0 -44.036)">64</text><text x="211.81" y="1464.85" font-size="11.48" fill="#000" transform="matrix(1 0 0 1.03 0 -43.946)"> = 594.72 (</text><text x="267.01" y="1464.85" font-size="11.48" font-style="italic" fill="#000" transform="matrix(1 0 0 1.03 0 -43.946)">p</text><text x="273.40" y="1464.85" font-size="11.48" fill="#000" transform="matrix(1 0 0 1.03 0 -43.946)"> &lt; 0.01)</text><text x="1.60" y="1481.38" font-size="11.6" fill="#000" transform="matrix(1 0 0 1.03 0 -44.441)">Test for subgroup differences: </text><text x="158.93" y="1481.38" font-size="11.6" fill="#000" transform="matrix(1 0 0 1.03 0 -44.441)">χ</text><text x="165.01" y="1477.08" font-size="8.4" fill="#000" transform="matrix(1 0 0 1.03 0 -44.312)">2</text><text x="165.01" y="1484.38" font-size="8.4" fill="#000" transform="matrix(1 0 0 1.03 0 -44.531)">4</text><text x="170.49" y="1481.38" font-size="11.6" fill="#000" transform="matrix(1 0 0 1.03 0 -44.441)"> = 4.25, df = 4 (</text><text x="249.16" y="1481.38" font-size="11.6" font-style="italic" fill="#000" transform="matrix(1 0 0 1.03 0 -44.441)">p</text><text x="255.61" y="1481.38" font-size="11.6" fill="#000" transform="matrix(1 0 0 1.03 0 -44.441)"> = 0.37)</text><text x="436.80" y="1482.00" font-size="13.78" text-anchor="middle" fill="#000" transform="matrix(1 0 0 1.03 0 -44.460)">0</text><text x="485.57" y="1482.00" font-size="13.78" text-anchor="middle" fill="#000" transform="matrix(1 0 0 1.03 0 -44.460)">0.1</text><text x="534.34" y="1482.00" font-size="13.78" text-anchor="middle" fill="#000" transform="matrix(1 0 0 1.03 0 -44.460)">0.2</text><text x="583.11" y="1482.00" font-size="13.78" text-anchor="middle" fill="#000" transform="matrix(1 0 0 1.03 0 -44.460)">0.3</text><text x="631.88" y="1482.00" font-size="13.78" text-anchor="middle" fill="#000" transform="matrix(1 0 0 1.03 0 -44.460)">0.4</text><text x="534.34" y="1498.30" font-size="13.78" text-anchor="middle" fill="#000" transform="matrix(1 0 0 1.03 0 -44.949)">Prevalence</text>
<g fill="#fff"><rect x="138.96" y="58.94" width="3.18" height="2.26"/><rect x="143.36" y="58.94" width="3.15" height="2.26"/><rect x="336.62" y="58.94" width="3.18" height="2.26"/><rect x="341.02" y="58.94" width="3.15" height="2.26"/><rect x="653.04" y="58.94" width="3.18" height="2.26"/><rect x="657.43" y="58.94" width="3.15" height="2.26"/><rect x="217.52" y="75.47" width="3.18" height="2.26"/><rect x="221.92" y="75.47" width="3.15" height="2.26"/><rect x="249.86" y="75.47" width="3.18" height="2.26"/><rect x="254.25" y="75.47" width="3.15" height="2.26"/><rect x="265.19" y="75.47" width="3.18" height="2.26"/><rect x="269.58" y="75.47" width="3.15" height="2.26"/><rect x="410.39" y="75.47" width="3.18" height="2.26"/><rect x="414.79" y="75.47" width="3.15" height="2.26"/><rect x="653.04" y="75.47" width="3.18" height="2.26"/><rect x="657.43" y="75.47" width="3.15" height="2.26"/><rect x="653.04" y="92.00" width="3.18" height="2.26"/><rect x="657.43" y="92.00" width="3.15" height="2.26"/><rect x="111.40" y="108.53" width="3.18" height="2.26"/><rect x="115.79" y="108.53" width="3.15" height="2.26"/><rect x="257.52" y="108.53" width="3.18" height="2.26"/><rect x="261.92" y="108.53" width="3.15" height="2.26"/><rect x="265.19" y="108.53" width="3.18" height="2.26"/><rect x="269.58" y="108.53" width="3.15" height="2.26"/><rect x="653.04" y="108.53" width="3.18" height="2.26"/><rect x="657.43" y="108.53" width="3.15" height="2.26"/><rect x="108.33" y="125.06" width="3.18" height="2.26"/><rect x="112.72" y="125.06" width="3.15" height="2.26"/><rect x="115.99" y="125.06" width="3.18" height="2.26"/><rect x="120.39" y="125.06" width="3.15" height="2.26"/><rect x="653.04" y="125.06" width="3.18" height="2.26"/><rect x="657.43" y="125.06" width="3.15" height="2.26"/><rect x="108.31" y="141.59" width="3.18" height="2.26"/><rect x="112.70" y="141.59" width="3.15" height="2.26"/><rect x="257.52" y="141.59" width="3.18" height="2.26"/><rect x="261.92" y="141.59" width="3.15" height="2.26"/><rect x="653.04" y="141.59" width="3.18" height="2.26"/><rect x="657.43" y="141.59" width="3.15" height="2.26"/><rect x="249.86" y="158.12" width="3.18" height="2.26"/><rect x="254.25" y="158.12" width="3.15" height="2.26"/><rect x="336.62" y="158.12" width="3.18" height="2.26"/><rect x="341.02" y="158.12" width="3.15" height="2.26"/><rect x="375.92" y="158.12" width="3.18" height="2.26"/><rect x="380.31" y="158.12" width="3.15" height="2.26"/><rect x="383.58" y="158.12" width="3.18" height="2.26"/><rect x="387.97" y="158.12" width="3.15" height="2.26"/><rect x="653.04" y="158.12" width="3.18" height="2.26"/><rect x="657.43" y="158.12" width="3.15" height="2.26"/><rect x="95.32" y="174.65" width="3.18" height="2.26"/><rect x="99.71" y="174.65" width="3.15" height="2.26"/><rect x="336.62" y="174.65" width="3.18" height="2.26"/><rect x="341.02" y="174.65" width="3.15" height="2.26"/><rect x="344.29" y="174.65" width="3.18" height="2.26"/><rect x="348.68" y="174.65" width="3.15" height="2.26"/><rect x="653.04" y="174.65" width="3.18" height="2.26"/><rect x="657.43" y="174.65" width="3.15" height="2.26"/><rect x="653.04" y="191.18" width="3.18" height="2.26"/><rect x="657.43" y="191.18" width="3.15" height="2.26"/><rect x="336.62" y="207.71" width="3.18" height="2.26"/><rect x="341.02" y="207.71" width="3.15" height="2.26"/><rect x="375.92" y="207.71" width="3.18" height="2.26"/><rect x="380.31" y="207.71" width="3.15" height="2.26"/><rect x="336.44" y="223.85" width="3.11" height="2.65"/><rect x="341.44" y="223.85" width="3.01" height="2.65"/><rect x="645.20" y="223.85" width="3.11" height="2.65"/><rect x="650.19" y="223.85" width="3.01" height="2.65"/><rect x="291.46" y="240.15" width="2.77" height="2.08"/><rect x="295.25" y="240.15" width="2.76" height="2.08"/><rect x="112.91" y="290.36" width="3.18" height="2.26"/><rect x="117.30" y="290.36" width="3.15" height="2.26"/><rect x="217.52" y="290.36" width="3.18" height="2.26"/><rect x="221.92" y="290.36" width="3.15" height="2.26"/><rect x="375.92" y="290.36" width="3.18" height="2.26"/><rect x="380.31" y="290.36" width="3.15" height="2.26"/><rect x="653.04" y="290.36" width="3.18" height="2.26"/><rect x="657.43" y="290.36" width="3.15" height="2.26"/><rect x="209.86" y="306.89" width="3.18" height="2.26"/><rect x="214.25" y="306.89" width="3.15" height="2.26"/><rect x="265.19" y="306.89" width="3.18" height="2.26"/><rect x="269.58" y="306.89" width="3.15" height="2.26"/><rect x="82.26" y="323.42" width="3.18" height="2.26"/><rect x="86.65" y="323.42" width="3.15" height="2.26"/><rect x="418.06" y="323.42" width="3.18" height="2.26"/><rect x="422.45" y="323.42" width="3.15" height="2.26"/><rect x="653.04" y="323.42" width="3.18" height="2.26"/><rect x="657.43" y="323.42" width="3.15" height="2.26"/><rect x="418.06" y="339.95" width="3.18" height="2.26"/><rect x="422.45" y="339.95" width="3.15" height="2.26"/><rect x="653.04" y="339.95" width="3.18" height="2.26"/><rect x="657.43" y="339.95" width="3.15" height="2.26"/><rect x="664.53" y="339.95" width="3.18" height="2.26"/><rect x="668.93" y="339.95" width="3.15" height="2.26"/><rect x="249.86" y="356.48" width="3.18" height="2.26"/><rect x="254.25" y="356.48" width="3.15" height="2.26"/><rect x="383.58" y="356.48" width="3.18" height="2.26"/><rect x="387.97" y="356.48" width="3.15" height="2.26"/><rect x="653.04" y="356.48" width="3.18" height="2.26"/><rect x="657.43" y="356.48" width="3.15" height="2.26"/><rect x="257.52" y="373.01" width="3.18" height="2.26"/><rect x="261.92" y="373.01" width="3.15" height="2.26"/><rect x="383.58" y="373.01" width="3.18" height="2.26"/><rect x="387.97" y="373.01" width="3.15" height="2.26"/><rect x="653.04" y="373.01" width="3.18" height="2.26"/><rect x="657.43" y="373.01" width="3.15" height="2.26"/><rect x="104.49" y="389.54" width="3.18" height="2.26"/><rect x="108.89" y="389.54" width="3.15" height="2.26"/><rect x="257.52" y="389.54" width="3.18" height="2.26"/><rect x="261.92" y="389.54" width="3.15" height="2.26"/><rect x="653.04" y="389.54" width="3.18" height="2.26"/><rect x="657.43" y="389.54" width="3.15" height="2.26"/><rect x="111.38" y="406.07" width="3.18" height="2.26"/><rect x="115.78" y="406.07" width="3.15" height="2.26"/><rect x="257.52" y="406.07" width="3.18" height="2.26"/><rect x="261.92" y="406.07" width="3.15" height="2.26"/><rect x="336.62" y="406.07" width="3.18" height="2.26"/><rect x="341.02" y="406.07" width="3.15" height="2.26"/><rect x="653.04" y="406.07" width="3.18" height="2.26"/><rect x="657.43" y="406.07" width="3.15" height="2.26"/><rect x="83.02" y="422.60" width="3.18" height="2.26"/><rect x="87.42" y="422.60" width="3.15" height="2.26"/><rect x="257.52" y="422.60" width="3.18" height="2.26"/><rect x="261.92" y="422.60" width="3.15" height="2.26"/><rect x="336.62" y="422.60" width="3.18" height="2.26"/><rect x="341.02" y="422.60" width="3.15" height="2.26"/><rect x="653.04" y="422.60" width="3.18" height="2.26"/><rect x="657.43" y="422.60" width="3.15" height="2.26"/><rect x="97.60" y="439.13" width="3.18" height="2.26"/><rect x="102.00" y="439.13" width="3.15" height="2.26"/><rect x="217.52" y="439.13" width="3.18" height="2.26"/><rect x="221.92" y="439.13" width="3.15" height="2.26"/><rect x="257.52" y="439.13" width="3.18" height="2.26"/><rect x="261.92" y="439.13" width="3.15" height="2.26"/><rect x="653.04" y="439.13" width="3.18" height="2.26"/><rect x="657.43" y="439.13" width="3.15" height="2.26"/><rect x="89.17" y="455.66" width="3.18" height="2.26"/><rect x="93.56" y="455.66" width="3.15" height="2.26"/><rect x="96.83" y="455.66" width="3.18" height="2.26"/><rect x="101.22" y="455.66" width="3.15" height="2.26"/><rect x="257.52" y="455.66" width="3.18" height="2.26"/><rect x="261.92" y="455.66" width="3.15" height="2.26"/><rect x="375.92" y="455.66" width="3.18" height="2.26"/><rect x="380.31" y="455.66" width="3.15" height="2.26"/><rect x="383.58" y="455.66" width="3.18" height="2.26"/><rect x="387.97" y="455.66" width="3.15" height="2.26"/><rect x="653.04" y="455.66" width="3.18" height="2.26"/><rect x="657.43" y="455.66" width="3.15" height="2.26"/><rect x="106.80" y="472.19" width="3.18" height="2.26"/><rect x="111.19" y="472.19" width="3.15" height="2.26"/><rect x="336.62" y="472.19" width="3.18" height="2.26"/><rect x="341.02" y="472.19" width="3.15" height="2.26"/><rect x="410.39" y="472.19" width="3.18" height="2.26"/><rect x="414.79" y="472.19" width="3.15" height="2.26"/><rect x="106.80" y="488.72" width="3.18" height="2.26"/><rect x="111.19" y="488.72" width="3.15" height="2.26"/><rect x="217.52" y="488.72" width="3.18" height="2.26"/><rect x="221.92" y="488.72" width="3.15" height="2.26"/><rect x="225.19" y="488.72" width="3.18" height="2.26"/><rect x="229.58" y="488.72" width="3.15" height="2.26"/><rect x="336.62" y="488.72" width="3.18" height="2.26"/><rect x="341.02" y="488.72" width="3.15" height="2.26"/><rect x="653.04" y="488.72" width="3.18" height="2.26"/><rect x="657.43" y="488.72" width="3.15" height="2.26"/><rect x="106.79" y="505.25" width="3.18" height="2.26"/><rect x="111.18" y="505.25" width="3.15" height="2.26"/><rect x="325.13" y="505.25" width="3.18" height="2.26"/><rect x="329.52" y="505.25" width="3.15" height="2.26"/><rect x="107.56" y="521.78" width="3.18" height="2.26"/><rect x="111.95" y="521.78" width="3.15" height="2.26"/><rect x="383.58" y="521.78" width="3.18" height="2.26"/><rect x="387.97" y="521.78" width="3.15" height="2.26"/><rect x="410.39" y="521.78" width="3.18" height="2.26"/><rect x="414.79" y="521.78" width="3.15" height="2.26"/><rect x="653.04" y="521.78" width="3.18" height="2.26"/><rect x="657.43" y="521.78" width="3.15" height="2.26"/><rect x="90.70" y="538.31" width="3.18" height="2.26"/><rect x="95.09" y="538.31" width="3.15" height="2.26"/><rect x="383.58" y="538.31" width="3.18" height="2.26"/><rect x="387.97" y="538.31" width="3.15" height="2.26"/><rect x="410.39" y="538.31" width="3.18" height="2.26"/><rect x="414.79" y="538.31" width="3.15" height="2.26"/><rect x="418.06" y="538.31" width="3.18" height="2.26"/><rect x="422.45" y="538.31" width="3.15" height="2.26"/><rect x="653.04" y="538.31" width="3.18" height="2.26"/><rect x="657.43" y="538.31" width="3.15" height="2.26"/><rect x="83.03" y="554.84" width="3.18" height="2.26"/><rect x="87.42" y="554.84" width="3.15" height="2.26"/><rect x="653.04" y="554.84" width="3.18" height="2.26"/><rect x="657.43" y="554.84" width="3.15" height="2.26"/><rect x="150.46" y="571.37" width="3.18" height="2.26"/><rect x="154.86" y="571.37" width="3.15" height="2.26"/><rect x="653.04" y="571.37" width="3.18" height="2.26"/><rect x="657.43" y="571.37" width="3.15" height="2.26"/><rect x="225.19" y="587.90" width="3.18" height="2.26"/><rect x="229.58" y="587.90" width="3.15" height="2.26"/><rect x="249.86" y="587.90" width="3.18" height="2.26"/><rect x="254.25" y="587.90" width="3.15" height="2.26"/><rect x="344.29" y="587.90" width="3.18" height="2.26"/><rect x="348.68" y="587.90" width="3.15" height="2.26"/><rect x="653.04" y="587.90" width="3.18" height="2.26"/><rect x="657.43" y="587.90" width="3.15" height="2.26"/><rect x="102.19" y="604.43" width="3.18" height="2.26"/><rect x="106.59" y="604.43" width="3.15" height="2.26"/><rect x="257.52" y="604.43" width="3.18" height="2.26"/><rect x="261.92" y="604.43" width="3.15" height="2.26"/><rect x="653.04" y="604.43" width="3.18" height="2.26"/><rect x="657.43" y="604.43" width="3.15" height="2.26"/><rect x="87.65" y="620.96" width="3.18" height="2.26"/><rect x="92.05" y="620.96" width="3.15" height="2.26"/><rect x="225.19" y="620.96" width="3.18" height="2.26"/><rect x="229.58" y="620.96" width="3.15" height="2.26"/><rect x="257.52" y="620.96" width="3.18" height="2.26"/><rect x="261.92" y="620.96" width="3.15" height="2.26"/><rect x="653.04" y="620.96" width="3.18" height="2.26"/><rect x="657.43" y="620.96" width="3.15" height="2.26"/><rect x="76.91" y="637.49" width="3.18" height="2.26"/><rect x="81.31" y="637.49" width="3.15" height="2.26"/><rect x="653.04" y="637.49" width="3.18" height="2.26"/><rect x="657.43" y="637.49" width="3.15" height="2.26"/><rect x="112.91" y="654.02" width="3.18" height="2.26"/><rect x="117.30" y="654.02" width="3.15" height="2.26"/><rect x="217.52" y="654.02" width="3.18" height="2.26"/><rect x="221.92" y="654.02" width="3.15" height="2.26"/><rect x="653.04" y="654.02" width="3.18" height="2.26"/><rect x="657.43" y="654.02" width="3.15" height="2.26"/><rect x="336.62" y="670.55" width="3.18" height="2.26"/><rect x="341.02" y="670.55" width="3.15" height="2.26"/><rect x="410.39" y="670.55" width="3.18" height="2.26"/><rect x="414.79" y="670.55" width="3.15" height="2.26"/><rect x="653.04" y="670.55" width="3.18" height="2.26"/><rect x="657.43" y="670.55" width="3.15" height="2.26"/><rect x="383.58" y="687.08" width="3.18" height="2.26"/><rect x="387.97" y="687.08" width="3.15" height="2.26"/><rect x="653.04" y="687.08" width="3.18" height="2.26"/><rect x="657.43" y="687.08" width="3.15" height="2.26"/><rect x="664.53" y="687.08" width="3.18" height="2.26"/><rect x="668.93" y="687.08" width="3.15" height="2.26"/><rect x="225.19" y="703.61" width="3.18" height="2.26"/><rect x="229.58" y="703.61" width="3.15" height="2.26"/><rect x="257.52" y="703.61" width="3.18" height="2.26"/><rect x="261.92" y="703.61" width="3.15" height="2.26"/><rect x="653.04" y="703.61" width="3.18" height="2.26"/><rect x="657.43" y="703.61" width="3.15" height="2.26"/><rect x="336.44" y="719.75" width="3.11" height="2.65"/><rect x="341.44" y="719.75" width="3.01" height="2.65"/><rect x="652.86" y="719.75" width="3.11" height="2.65"/><rect x="657.86" y="719.75" width="3.01" height="2.65"/><rect x="302.51" y="736.05" width="2.77" height="2.08"/><rect x="306.30" y="736.05" width="2.76" height="2.08"/><rect x="257.52" y="786.26" width="3.18" height="2.26"/><rect x="261.92" y="786.26" width="3.15" height="2.26"/><rect x="336.62" y="786.26" width="3.18" height="2.26"/><rect x="341.02" y="786.26" width="3.15" height="2.26"/><rect x="383.58" y="786.26" width="3.18" height="2.26"/><rect x="387.97" y="786.26" width="3.15" height="2.26"/><rect x="653.04" y="786.26" width="3.18" height="2.26"/><rect x="657.43" y="786.26" width="3.15" height="2.26"/><rect x="85.34" y="802.79" width="3.18" height="2.26"/><rect x="89.73" y="802.79" width="3.15" height="2.26"/><rect x="257.52" y="802.79" width="3.18" height="2.26"/><rect x="261.92" y="802.79" width="3.15" height="2.26"/><rect x="383.58" y="802.79" width="3.18" height="2.26"/><rect x="387.97" y="802.79" width="3.15" height="2.26"/><rect x="653.04" y="802.79" width="3.18" height="2.26"/><rect x="657.43" y="802.79" width="3.15" height="2.26"/><rect x="102.21" y="819.32" width="3.18" height="2.26"/><rect x="106.60" y="819.32" width="3.15" height="2.26"/><rect x="225.19" y="819.32" width="3.18" height="2.26"/><rect x="229.58" y="819.32" width="3.15" height="2.26"/><rect x="265.19" y="819.32" width="3.18" height="2.26"/><rect x="269.58" y="819.32" width="3.15" height="2.26"/><rect x="410.39" y="819.32" width="3.18" height="2.26"/><rect x="414.79" y="819.32" width="3.15" height="2.26"/><rect x="653.04" y="819.32" width="3.18" height="2.26"/><rect x="657.43" y="819.32" width="3.15" height="2.26"/><rect x="125.20" y="835.85" width="3.18" height="2.26"/><rect x="129.59" y="835.85" width="3.15" height="2.26"/><rect x="257.52" y="835.85" width="3.18" height="2.26"/><rect x="261.92" y="835.85" width="3.15" height="2.26"/><rect x="383.58" y="835.85" width="3.18" height="2.26"/><rect x="387.97" y="835.85" width="3.15" height="2.26"/><rect x="653.04" y="835.85" width="3.18" height="2.26"/><rect x="657.43" y="835.85" width="3.15" height="2.26"/><rect x="653.04" y="852.38" width="3.18" height="2.26"/><rect x="657.43" y="852.38" width="3.15" height="2.26"/><rect x="89.94" y="868.91" width="3.18" height="2.26"/><rect x="94.33" y="868.91" width="3.15" height="2.26"/><rect x="418.06" y="868.91" width="3.18" height="2.26"/><rect x="422.45" y="868.91" width="3.15" height="2.26"/><rect x="257.52" y="885.44" width="3.18" height="2.26"/><rect x="261.92" y="885.44" width="3.15" height="2.26"/><rect x="418.06" y="885.44" width="3.18" height="2.26"/><rect x="422.45" y="885.44" width="3.15" height="2.26"/><rect x="653.04" y="885.44" width="3.18" height="2.26"/><rect x="657.43" y="885.44" width="3.15" height="2.26"/><rect x="93.77" y="901.97" width="3.18" height="2.26"/><rect x="98.16" y="901.97" width="3.15" height="2.26"/><rect x="418.06" y="901.97" width="3.18" height="2.26"/><rect x="422.45" y="901.97" width="3.15" height="2.26"/><rect x="117.52" y="918.50" width="3.18" height="2.26"/><rect x="121.91" y="918.50" width="3.15" height="2.26"/><rect x="217.52" y="918.50" width="3.18" height="2.26"/><rect x="221.92" y="918.50" width="3.15" height="2.26"/><rect x="225.19" y="918.50" width="3.18" height="2.26"/><rect x="229.58" y="918.50" width="3.15" height="2.26"/><rect x="336.62" y="918.50" width="3.18" height="2.26"/><rect x="341.02" y="918.50" width="3.15" height="2.26"/><rect x="410.39" y="918.50" width="3.18" height="2.26"/><rect x="414.79" y="918.50" width="3.15" height="2.26"/><rect x="653.04" y="918.50" width="3.18" height="2.26"/><rect x="657.43" y="918.50" width="3.15" height="2.26"/><rect x="217.52" y="935.03" width="3.18" height="2.26"/><rect x="221.92" y="935.03" width="3.15" height="2.26"/><rect x="225.19" y="935.03" width="3.18" height="2.26"/><rect x="229.58" y="935.03" width="3.15" height="2.26"/><rect x="225.19" y="951.56" width="3.18" height="2.26"/><rect x="229.58" y="951.56" width="3.15" height="2.26"/><rect x="257.52" y="951.56" width="3.18" height="2.26"/><rect x="261.92" y="951.56" width="3.15" height="2.26"/><rect x="383.58" y="951.56" width="3.18" height="2.26"/><rect x="387.97" y="951.56" width="3.15" height="2.26"/><rect x="653.04" y="951.56" width="3.18" height="2.26"/><rect x="657.43" y="951.56" width="3.15" height="2.26"/><rect x="96.08" y="968.09" width="3.18" height="2.26"/><rect x="100.47" y="968.09" width="3.15" height="2.26"/><rect x="336.62" y="968.09" width="3.18" height="2.26"/><rect x="341.02" y="968.09" width="3.15" height="2.26"/><rect x="375.92" y="968.09" width="3.18" height="2.26"/><rect x="380.31" y="968.09" width="3.15" height="2.26"/><rect x="410.39" y="968.09" width="3.18" height="2.26"/><rect x="414.79" y="968.09" width="3.15" height="2.26"/><rect x="653.04" y="984.62" width="3.18" height="2.26"/><rect x="657.43" y="984.62" width="3.15" height="2.26"/><rect x="102.97" y="1001.15" width="3.18" height="2.26"/><rect x="107.36" y="1001.15" width="3.15" height="2.26"/><rect x="217.52" y="1001.15" width="3.18" height="2.26"/><rect x="221.92" y="1001.15" width="3.15" height="2.26"/><rect x="375.92" y="1001.15" width="3.18" height="2.26"/><rect x="380.31" y="1001.15" width="3.15" height="2.26"/><rect x="653.04" y="1001.15" width="3.18" height="2.26"/><rect x="657.43" y="1001.15" width="3.15" height="2.26"/><rect x="102.18" y="1017.68" width="3.18" height="2.26"/><rect x="106.57" y="1017.68" width="3.15" height="2.26"/><rect x="109.84" y="1017.68" width="3.18" height="2.26"/><rect x="114.24" y="1017.68" width="3.15" height="2.26"/><rect x="257.52" y="1017.68" width="3.18" height="2.26"/><rect x="261.92" y="1017.68" width="3.15" height="2.26"/><rect x="410.39" y="1017.68" width="3.18" height="2.26"/><rect x="414.79" y="1017.68" width="3.15" height="2.26"/><rect x="653.04" y="1017.68" width="3.18" height="2.26"/><rect x="657.43" y="1017.68" width="3.15" height="2.26"/><rect x="110.62" y="1034.21" width="3.18" height="2.26"/><rect x="115.02" y="1034.21" width="3.15" height="2.26"/><rect x="257.52" y="1034.21" width="3.18" height="2.26"/><rect x="261.92" y="1034.21" width="3.15" height="2.26"/><rect x="336.62" y="1034.21" width="3.18" height="2.26"/><rect x="341.02" y="1034.21" width="3.15" height="2.26"/><rect x="653.04" y="1034.21" width="3.18" height="2.26"/><rect x="657.43" y="1034.21" width="3.15" height="2.26"/><rect x="103.73" y="1050.74" width="3.18" height="2.26"/><rect x="108.13" y="1050.74" width="3.15" height="2.26"/><rect x="265.19" y="1050.74" width="3.18" height="2.26"/><rect x="269.58" y="1050.74" width="3.15" height="2.26"/><rect x="375.92" y="1050.74" width="3.18" height="2.26"/><rect x="380.31" y="1050.74" width="3.15" height="2.26"/><rect x="653.04" y="1067.27" width="3.18" height="2.26"/><rect x="657.43" y="1067.27" width="3.15" height="2.26"/><rect x="79.97" y="1083.80" width="3.18" height="2.26"/><rect x="84.37" y="1083.80" width="3.15" height="2.26"/><rect x="265.19" y="1083.80" width="3.18" height="2.26"/><rect x="269.58" y="1083.80" width="3.15" height="2.26"/><rect x="410.39" y="1083.80" width="3.18" height="2.26"/><rect x="414.79" y="1083.80" width="3.15" height="2.26"/><rect x="653.04" y="1083.80" width="3.18" height="2.26"/><rect x="657.43" y="1083.80" width="3.15" height="2.26"/><rect x="249.86" y="1100.33" width="3.18" height="2.26"/><rect x="254.25" y="1100.33" width="3.15" height="2.26"/><rect x="653.04" y="1100.33" width="3.18" height="2.26"/><rect x="657.43" y="1100.33" width="3.15" height="2.26"/><rect x="409.45" y="1116.47" width="3.11" height="2.65"/><rect x="414.45" y="1116.47" width="3.01" height="2.65"/><rect x="202.00" y="1136.00" width="2.23" height="1.85"/><rect x="204.98" y="1136.00" width="2.25" height="1.85"/><rect x="224.96" y="1132.77" width="2.77" height="2.08"/><rect x="228.75" y="1132.77" width="2.76" height="2.08"/><rect x="302.51" y="1132.77" width="2.77" height="2.08"/><rect x="306.30" y="1132.77" width="2.76" height="2.08"/><rect x="115.97" y="1182.98" width="3.18" height="2.26"/><rect x="120.37" y="1182.98" width="3.15" height="2.26"/><rect x="257.52" y="1182.98" width="3.18" height="2.26"/><rect x="261.92" y="1182.98" width="3.15" height="2.26"/><rect x="336.62" y="1182.98" width="3.18" height="2.26"/><rect x="341.02" y="1182.98" width="3.15" height="2.26"/><rect x="344.29" y="1182.98" width="3.18" height="2.26"/><rect x="348.68" y="1182.98" width="3.15" height="2.26"/><rect x="383.58" y="1182.98" width="3.18" height="2.26"/><rect x="387.97" y="1182.98" width="3.15" height="2.26"/><rect x="653.04" y="1182.98" width="3.18" height="2.26"/><rect x="657.43" y="1182.98" width="3.15" height="2.26"/><rect x="109.09" y="1199.51" width="3.18" height="2.26"/><rect x="113.48" y="1199.51" width="3.15" height="2.26"/><rect x="257.52" y="1199.51" width="3.18" height="2.26"/><rect x="261.92" y="1199.51" width="3.15" height="2.26"/><rect x="375.92" y="1199.51" width="3.18" height="2.26"/><rect x="380.31" y="1199.51" width="3.15" height="2.26"/><rect x="653.04" y="1199.51" width="3.18" height="2.26"/><rect x="657.43" y="1199.51" width="3.15" height="2.26"/><rect x="93.78" y="1216.04" width="3.18" height="2.26"/><rect x="98.17" y="1216.04" width="3.15" height="2.26"/><rect x="257.52" y="1216.04" width="3.18" height="2.26"/><rect x="261.92" y="1216.04" width="3.15" height="2.26"/><rect x="265.19" y="1216.04" width="3.18" height="2.26"/><rect x="269.58" y="1216.04" width="3.15" height="2.26"/><rect x="383.58" y="1216.04" width="3.18" height="2.26"/><rect x="387.97" y="1216.04" width="3.15" height="2.26"/><rect x="653.04" y="1216.04" width="3.18" height="2.26"/><rect x="657.43" y="1216.04" width="3.15" height="2.26"/><rect x="88.40" y="1232.57" width="3.18" height="2.26"/><rect x="92.79" y="1232.57" width="3.15" height="2.26"/><rect x="653.04" y="1232.57" width="3.18" height="2.26"/><rect x="657.43" y="1232.57" width="3.15" height="2.26"/><rect x="664.35" y="1248.71" width="3.11" height="2.65"/><rect x="669.35" y="1248.71" width="3.01" height="2.65"/><rect x="220.29" y="1265.01" width="2.77" height="2.08"/><rect x="224.08" y="1265.01" width="2.76" height="2.08"/><rect x="291.46" y="1265.01" width="2.77" height="2.08"/><rect x="295.25" y="1265.01" width="2.76" height="2.08"/><rect x="249.86" y="1315.22" width="3.18" height="2.26"/><rect x="254.25" y="1315.22" width="3.15" height="2.26"/><rect x="375.92" y="1315.22" width="3.18" height="2.26"/><rect x="380.31" y="1315.22" width="3.15" height="2.26"/><rect x="653.04" y="1315.22" width="3.18" height="2.26"/><rect x="657.43" y="1315.22" width="3.15" height="2.26"/><rect x="87.65" y="1331.75" width="3.18" height="2.26"/><rect x="92.05" y="1331.75" width="3.15" height="2.26"/><rect x="209.86" y="1331.75" width="3.18" height="2.26"/><rect x="214.25" y="1331.75" width="3.15" height="2.26"/><rect x="225.19" y="1331.75" width="3.18" height="2.26"/><rect x="229.58" y="1331.75" width="3.15" height="2.26"/><rect x="375.92" y="1331.75" width="3.18" height="2.26"/><rect x="380.31" y="1331.75" width="3.15" height="2.26"/><rect x="92.24" y="1348.28" width="3.18" height="2.26"/><rect x="96.63" y="1348.28" width="3.15" height="2.26"/><rect x="249.86" y="1348.28" width="3.18" height="2.26"/><rect x="254.25" y="1348.28" width="3.15" height="2.26"/><rect x="383.58" y="1348.28" width="3.18" height="2.26"/><rect x="387.97" y="1348.28" width="3.15" height="2.26"/><rect x="653.04" y="1348.28" width="3.18" height="2.26"/><rect x="657.43" y="1348.28" width="3.15" height="2.26"/><rect x="653.04" y="1364.81" width="3.18" height="2.26"/><rect x="657.43" y="1364.81" width="3.15" height="2.26"/><rect x="336.44" y="1397.48" width="3.11" height="2.65"/><rect x="341.44" y="1397.48" width="3.01" height="2.65"/><rect x="344.10" y="1397.48" width="3.11" height="2.65"/><rect x="349.10" y="1397.48" width="3.01" height="2.65"/><rect x="381.88" y="1397.48" width="3.11" height="2.65"/><rect x="386.88" y="1397.48" width="3.01" height="2.65"/><rect x="291.46" y="1413.78" width="2.77" height="2.08"/><rect x="295.25" y="1413.78" width="2.76" height="2.08"/><rect x="336.44" y="1447.07" width="3.11" height="2.65"/><rect x="341.44" y="1447.07" width="3.01" height="2.65"/><rect x="409.45" y="1447.07" width="3.11" height="2.65"/><rect x="414.45" y="1447.07" width="3.01" height="2.65"/><rect x="637.53" y="1447.07" width="3.11" height="2.65"/><rect x="642.53" y="1447.07" width="3.01" height="2.65"/><rect x="302.51" y="1463.37" width="2.77" height="2.08"/><rect x="306.30" y="1463.37" width="2.76" height="2.08"/><rect x="487.73" y="1480.34" width="3.18" height="2.26"/><rect x="492.13" y="1480.34" width="3.15" height="2.26"/></g>
</svg>
</body></html>
